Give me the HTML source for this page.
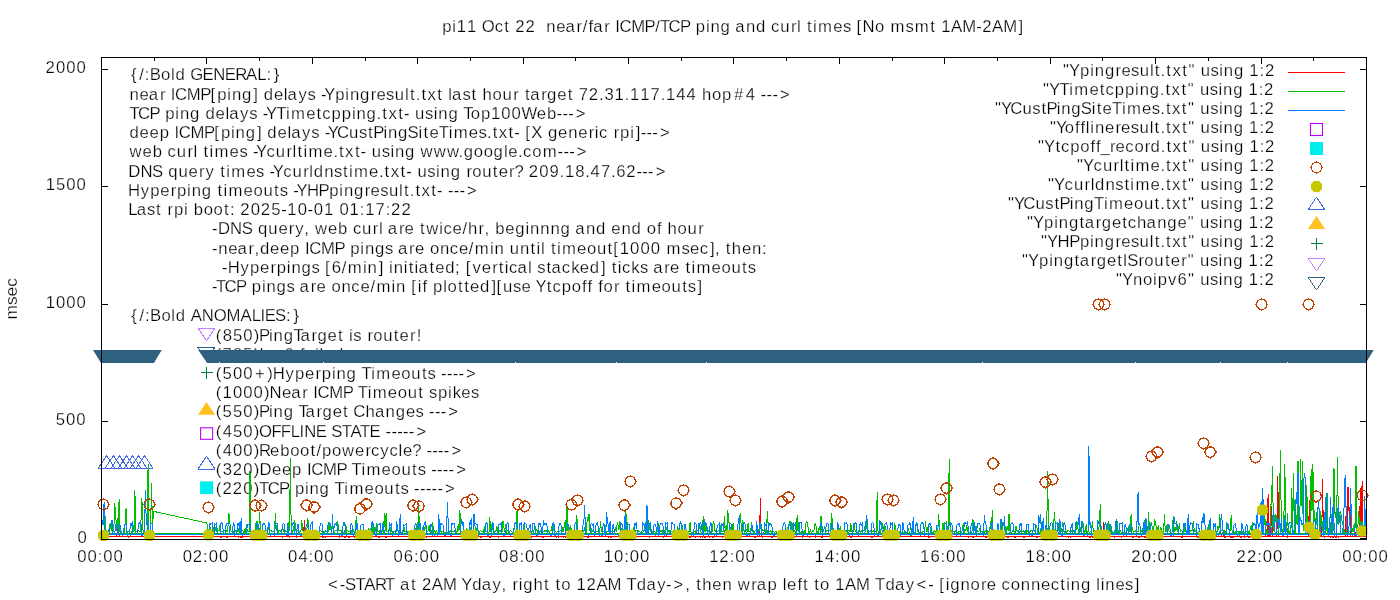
<!DOCTYPE html><html><head><meta charset="utf-8"><style>html,body{margin:0;padding:0;background:#fff;width:1400px;height:600px;overflow:hidden}svg{display:block;will-change:transform}text{font-family:"Liberation Sans",sans-serif;font-size:16.70px;fill:#000;stroke:#fff;stroke-width:0.25px;white-space:pre}</style></head><body>
<svg width="1400" height="600" viewBox="0 0 1400 600">
<rect width="1400" height="600" fill="#fff"/>
<g><text x="442.2 452.2 456.7 467.0 477.1 481.8 494.7 504.3 510.1 515.2 525.5 535.7 540.9 546.3 556.3 565.6 576.6 582.8 588.6 593.2 604.2 610.2 615.2 619.4 631.2 644.6 655.2 660.0 668.6 679.9 690.3 695.8 705.9 710.4 720.5 730.6 735.2 745.9 756.0 766.1 771.0 780.3 790.9 797.1 801.4 807.1 813.0 818.0 833.2 842.9 851.4 856.5 862.6 874.9 884.7 890.5 905.4 914.7 930.2 936.0 941.3 951.1 962.2 976.2 982.2 992.1 1003.2 1018.5" y="32.00">pi11 Oct 22  near/far ICMP/TCP ping and curl times [No msmt 1AM-2AM]</text>
<text x="328.0 339.7 345.1 355.5 364.2 375.1 385.1 395.4 400.0 411.0 416.7 421.9 431.8 442.9 457.1 461.3 472.2 481.7 492.5 501.5 506.8 512.5 518.7 523.2 533.5 544.1 549.8 555.5 561.3 571.1 576.4 586.6 596.5 607.6 621.7 626.4 636.8 646.4 657.2 666.0 673.5 685.2 690.5 696.2 702.2 712.3 722.4 732.3 737.8 751.3 756.7 767.5 777.4 782.7 787.1 797.4 802.9 808.6 814.3 820.1 830.0 835.2 845.0 856.1 870.3 875.0 885.4 894.9 905.7 916.5 928.3 934.2 939.3 945.8 950.3 960.6 970.6 981.1 986.8 996.6 1001.6 1010.7 1020.7 1031.0 1041.0 1050.7 1060.3 1066.2 1070.8 1080.9 1091.0 1096.2 1100.7 1105.3 1115.4 1125.1 1134.8" y="590.00">&lt;-START at 2AM Yday, right to 12AM Tday-&gt;, then wrap left to 1AM Tday&lt;- [ignore connecting lines]</text>
<text x="45.5 56.0 66.3 76.5" y="73.00">2000</text>
<text x="45.7 55.9 66.3 76.5" y="190.00">1500</text>
<text x="45.7 56.0 66.3 76.5" y="308.00">1000</text>
<text x="55.7 66.0 76.3" y="425.00">500</text>
<text x="77.6" y="542.50">0</text>
<text x="77.3 87.5 97.7 103.3 113.5" y="562.00">00:00</text>
<text x="182.7 192.8 203.1 208.7 218.9" y="562.00">02:00</text>
<text x="288.1 298.4 308.6 314.1 324.3" y="562.00">04:00</text>
<text x="393.5 403.8 414.0 419.5 429.8" y="562.00">06:00</text>
<text x="498.9 509.2 519.4 524.9 535.2" y="562.00">08:00</text>
<text x="603.8 614.1 624.3 629.8 640.1" y="562.00">10:00</text>
<text x="709.2 719.3 729.7 735.2 745.5" y="562.00">12:00</text>
<text x="814.6 825.0 835.1 840.7 850.9" y="562.00">14:00</text>
<text x="920.0 930.4 940.6 946.1 956.3" y="562.00">16:00</text>
<text x="1025.4 1035.8 1046.0 1051.5 1061.8" y="562.00">18:00</text>
<text x="1131.2 1141.7 1151.9 1157.4 1167.7" y="562.00">20:00</text>
<text x="1236.6 1246.9 1257.3 1262.8 1273.1" y="562.00">22:00</text>
<text x="1342.3 1352.5 1362.7 1368.2 1378.5" y="562.00">00:00</text>
<text x="131.0 139.3 144.7 149.7 161.1 171.0 175.5 185.6 190.3 202.5 213.2 224.7 235.3 245.9 257.2 266.4 273.8" y="80.00">{/:Bold GENERAL:}</text>
<text x="129.5 139.6 148.8 159.9 165.9 170.8 175.0 186.8 200.3 210.6 217.3 227.3 231.9 242.0 253.3 258.4 263.7 273.9 283.8 287.6 298.4 307.5 316.0 321.0 324.2 335.2 345.3 349.9 360.0 370.7 376.4 386.1 394.8 405.0 409.9 415.7 421.4 427.5 437.2 443.0 448.3 452.1 462.4 471.5 477.2 482.6 492.6 502.6 513.3 519.3 525.0 530.2 541.2 547.1 557.3 567.7 573.4 578.8 588.8 599.1 604.5 614.6 624.7 630.0 640.3 650.6 660.7 665.9 676.3 686.6 696.6 701.9 712.0 722.1 733.9 745.8 755.8 760.8 766.6 772.4 780.0" y="100.00">near ICMP[ping] delays -Ypingresult.txt last hour target 72.31.117.144 hop#4 ---&gt;</text>
<text x="129.5 138.1 149.4 159.8 165.3 175.3 179.9 190.0 200.1 205.4 215.6 225.6 229.3 240.1 249.2 257.7 262.7 265.9 276.2 286.1 291.1 306.2 316.6 322.2 331.6 341.8 351.9 356.5 366.5 376.6 382.3 388.4 398.2 403.9 409.8 415.1 425.0 433.7 438.3 448.4 458.5 463.2 470.8 480.9 491.0 501.3 511.6 521.4 536.7 546.9 556.6 562.5 568.3 575.8" y="119.00">TCP ping delays -YTimetcpping.txt- using Top100Web---&gt;</text>
<text x="129.4 139.6 149.5 159.7 169.6 174.5 178.7 190.5 203.9 214.3 221.0 231.0 235.6 245.7 257.0 262.1 267.3 277.6 287.5 291.3 302.1 311.2 319.7 324.7 327.8 336.9 349.1 359.1 368.1 373.2 383.4 388.0 398.1 407.6 418.6 423.5 429.4 438.8 448.7 453.7 468.8 478.5 487.0 492.7 498.8 508.6 514.2 520.2 525.3 531.3 542.6 547.9 558.1 568.2 578.2 588.7 594.8 599.0 608.0 613.8 620.1 630.2 635.7 640.7 646.5 652.3 659.9" y="138.00">deep ICMP[ping] delays -YCustPingSiteTimes.txt- [X generic rpi]---&gt;</text>
<text x="129.6 142.5 152.7 162.6 167.5 176.8 187.4 193.6 197.9 203.6 209.5 214.5 229.6 239.4 247.9 252.9 256.0 266.6 275.8 286.4 292.6 297.5 303.4 308.4 323.6 333.4 339.1 345.1 354.9 360.6 366.5 371.8 381.7 390.4 395.0 405.1 415.2 420.6 433.8 447.0 458.4 463.7 473.8 483.7 493.6 503.9 508.3 518.1 523.1 532.2 542.7 557.6 563.4 569.2 576.7" y="157.00">web curl times -Ycurltime.txt- using www.google.com---&gt;</text>
<text x="128.2 140.4 152.1 163.0 168.2 178.5 188.6 199.1 205.4 214.6 220.3 226.2 231.3 246.4 256.1 264.6 269.6 272.7 283.3 292.5 303.2 309.3 313.8 324.2 334.0 343.1 349.0 354.0 369.1 379.0 384.6 390.7 400.5 406.2 412.1 417.4 427.3 436.0 440.6 450.7 460.8 466.5 472.2 482.2 492.8 498.7 509.1 514.5 523.7 528.8 539.3 549.5 559.6 564.9 575.2 585.3 590.6 600.9 610.9 616.3 626.3 636.5 642.3 648.1 655.7" y="177.00">DNS query times -Ycurldnstime.txt- using router? 209.18.47.62---&gt;</text>
<text x="128.0 140.7 150.3 160.3 170.7 177.0 187.1 191.7 201.8 211.9 217.6 223.5 228.5 243.6 253.5 263.5 274.1 279.7 288.2 293.3 296.4 306.9 318.6 329.3 339.3 343.9 354.0 364.7 370.5 380.2 388.9 399.1 404.0 409.8 415.4 421.5 431.3 437.0 442.9 447.9 453.7 459.5 467.1" y="196.00">Hyperping timeouts -YHPpingresult.txt- ---&gt;</text>
<text x="128.2 136.7 147.0 156.1 161.8 167.6 173.9 184.0 188.3 193.8 203.7 213.6 223.9 229.9 235.1 240.3 250.8 260.8 271.2 281.2 287.3 297.7 307.6 313.7 323.9 334.0 339.4 349.6 359.8 365.3 375.6 385.8 391.1 401.4" y="215.00">Last rpi boot: 2025-10-01 01:17:22</text>
<text x="212.0 217.9 230.1 241.8 252.7 257.9 268.2 278.4 288.8 295.2 304.2 309.5 314.9 327.9 338.0 347.9 352.9 362.1 372.8 378.9 383.3 387.8 398.9 404.6 414.4 420.1 426.2 439.2 443.4 452.5 462.5 468.0 478.6 484.5 489.8 495.2 505.2 515.2 525.4 530.0 540.2 550.4 560.5 570.6 575.2 585.9 596.0 606.1 611.3 621.4 631.5 641.6 646.8 657.1 662.3 667.6 677.6 687.6 698.3" y="234.00">-DNS query, web curl are twice/hr, beginnng and end of hour</text>
<text x="212.0 218.2 228.3 237.5 248.6 254.4 259.9 270.1 280.0 290.1 300.0 305.0 309.2 320.9 334.4 344.8 350.3 360.3 364.9 375.0 385.0 393.5 398.1 409.1 414.9 424.7 429.9 439.9 449.7 458.9 468.8 474.8 490.0 494.6 504.5 509.8 520.1 530.6 536.6 541.0 545.4 551.1 557.0 562.0 577.1 587.0 597.0 607.6 613.3 619.8 630.1 640.4 650.7 660.7 666.5 681.4 690.0 699.7 709.9 714.9 720.1 725.8 731.8 741.9 752.0 762.1" y="254.00">-near,deep ICMP pings are once/min until timeout[1000 msec], then:</text>
<text x="222.0 227.7 240.4 250.0 260.0 270.4 276.7 286.8 291.4 301.5 311.5 320.0 325.1 331.7 341.8 347.8 363.0 367.6 378.7 383.8 389.1 393.7 403.8 408.7 414.6 418.4 429.4 435.3 445.2 455.1 460.7 465.8 472.5 481.8 492.2 498.8 504.7 508.9 517.4 527.9 532.3 537.3 546.4 551.6 561.8 571.3 579.8 589.7 601.0 606.1 611.8 617.7 621.9 631.3 640.1 648.6 653.2 664.3 670.0 679.8 685.5 691.4 696.5 711.6 721.4 731.4 742.0 747.7" y="273.00">-Hyperpings [6/min] initiated; [vertical stacked] ticks are timeouts</text>
<text x="212.0 216.1 224.6 236.0 246.4 251.8 261.9 266.5 276.6 286.6 295.1 299.6 310.7 316.4 326.3 331.4 341.5 351.3 360.4 370.4 376.4 391.5 396.1 406.1 411.2 417.7 422.5 427.7 433.1 443.2 447.6 457.9 464.2 470.1 480.1 491.4 496.4 503.0 512.9 521.5 531.3 535.6 546.8 552.4 561.8 571.8 582.0 587.5 592.7 598.3 603.5 613.9 620.0 625.6 631.6 636.6 651.7 661.6 671.6 682.2 687.8 697.5" y="292.00">-TCP pings are once/min [if plotted][use Ytcpoff for timeouts]</text>
<text x="131.3 139.6 145.0 150.0 161.4 171.3 175.8 185.9 190.8 201.8 213.8 226.6 240.4 251.7 260.6 264.7 275.1 286.1 293.5" y="321.00">{/:Bold ANOMALIES:}</text>
<text x="215.8 222.7 232.9 243.2 253.8 258.9 269.0 273.6 283.7 293.4 300.5 311.5 317.4 327.6 337.9 343.7 349.0 353.2 361.7 367.5 373.2 383.2 393.7 399.6 410.0 416.7" y="341.00">(850)PingTarget is router!</text>
<text x="215.8 222.6 232.9 243.1 253.8 259.3 264.6 274.9 284.3 294.3 299.9 304.6 315.2 319.6 324.1 334.0" y="360.00">(785)Ipv6 failed</text>
<text x="215.8 222.6 232.9 243.2 254.9 267.3 272.8 285.5 295.1 305.1 315.5 321.8 331.9 336.5 346.6 356.7 361.4 371.3 376.3 391.4 401.3 411.3 421.9 427.6 436.1 441.1 446.9 452.7 458.5 466.1" y="379.00">(500+)Hyperping Timeouts ----&gt;</text>
<text x="215.8 222.6 232.9 243.2 253.5 264.0 269.6 282.0 291.2 302.3 308.3 313.2 317.4 329.2 342.7 353.0 357.8 367.7 372.7 387.8 397.7 407.7 418.3 424.0 429.1 437.9 447.9 452.7 461.2 470.9" y="398.00">(1000)Near ICMP Timeout spikes</text>
<text x="215.8 222.6 232.9 243.2 253.8 258.9 269.0 273.6 283.7 293.8 298.5 305.6 316.6 322.5 332.7 343.1 348.8 353.2 365.5 374.9 385.6 395.7 405.9 415.6 424.1 429.1 434.9 440.7 448.3" y="417.00">(550)Ping Target Changes ---&gt;</text>
<text x="215.8 222.7 232.9 243.2 253.8 259.1 271.5 280.8 290.7 299.6 304.3 315.8 326.8 331.3 341.7 350.4 360.1 369.6 380.5 385.5 391.4 397.2 403.0 408.8 416.4" y="437.00">(450)OFFLINE STATE -----&gt;</text>
<text x="215.8 222.7 232.9 243.2 253.8 259.1 270.1 280.3 290.2 300.1 310.5 316.4 322.0 331.9 342.1 355.0 365.5 371.0 380.3 389.4 398.5 403.0 412.2 421.4 426.4 432.2 438.0 443.8 451.4" y="456.00">(400)Reboot/powercycle? ----&gt;</text>
<text x="215.8 222.7 232.7 243.2 253.8 259.5 272.1 282.0 292.1 302.0 307.0 311.2 322.9 336.4 346.8 351.5 361.4 366.5 381.6 391.4 401.4 412.0 417.7 426.2 431.2 437.0 442.8 448.6 456.2" y="475.00">(320)Deep ICMP Timeouts ----&gt;</text>
<text x="215.8 222.5 232.7 243.2 253.8 259.1 267.7 279.0 289.4 294.9 304.9 309.5 319.6 329.7 334.4 344.3 349.4 364.5 374.4 384.3 394.9 400.6 409.1 414.1 419.9 425.7 431.6 437.4 444.9" y="494.00">(220)TCP ping Timeouts -----&gt;</text>
<text x="1063.0 1069.1 1080.1 1090.2 1094.8 1104.9 1115.6 1121.4 1131.1 1139.8 1149.9 1154.8 1160.6 1166.3 1172.4 1182.2 1188.4 1195.4 1200.7 1210.6 1219.3 1223.8 1233.9 1244.0 1249.3 1259.6 1264.9" y="76.00">"Ypingresult.txt" using 1:2</text>
<text x="1043.0 1049.1 1059.4 1069.3 1074.3 1089.4 1099.8 1105.4 1114.8 1125.0 1135.1 1139.7 1149.8 1159.8 1165.5 1171.6 1181.4 1187.7 1194.6 1199.9 1209.8 1218.5 1223.1 1233.2 1243.3 1248.6 1258.8 1264.1" y="95.00">"YTimetcpping.txt" using 1:2</text>
<text x="995.0 1001.1 1010.2 1022.4 1032.3 1041.4 1046.5 1056.7 1061.3 1071.3 1080.8 1091.8 1096.7 1102.6 1112.0 1121.9 1126.9 1142.1 1151.8 1160.3 1166.0 1172.0 1181.8 1188.1 1195.0 1200.3 1210.3 1218.9 1223.5 1233.6 1243.7 1249.0 1259.3 1264.6" y="114.00">"YCustPingSiteTimes.txt" using 1:2</text>
<text x="1050.0 1056.1 1064.7 1075.0 1080.4 1085.8 1090.3 1094.9 1104.9 1115.4 1121.1 1130.8 1139.5 1149.7 1154.6 1160.4 1166.1 1172.1 1181.9 1188.2 1195.1 1200.4 1210.4 1219.0 1223.6 1233.7 1243.8 1249.1 1259.4 1264.7" y="133.00">"Yofflineresult.txt" using 1:2</text>
<text x="1038.0 1044.1 1055.4 1061.0 1070.3 1080.3 1090.6 1096.0 1100.4 1109.9 1115.6 1125.3 1134.4 1144.8 1150.6 1160.7 1166.4 1172.5 1182.3 1188.6 1195.5 1200.8 1210.7 1219.4 1224.0 1234.1 1244.2 1249.5 1259.7 1265.0" y="152.00">"Ytcpoff_record.txt" using 1:2</text>
<text x="1077.0 1083.1 1093.6 1102.9 1113.5 1119.7 1124.6 1130.5 1135.5 1150.6 1160.4 1166.1 1172.2 1182.0 1188.3 1195.2 1200.5 1210.4 1219.1 1223.7 1233.8 1243.9 1249.2 1259.4 1264.7" y="171.00">"Ycurltime.txt" using 1:2</text>
<text x="1048.0 1054.1 1064.6 1073.9 1084.5 1090.7 1095.1 1105.5 1115.3 1124.4 1130.3 1135.4 1150.5 1160.3 1166.0 1172.1 1181.9 1188.1 1195.0 1200.4 1210.3 1218.9 1223.5 1233.6 1243.7 1249.0 1259.3 1264.6" y="190.00">"Ycurldnstime.txt" using 1:2</text>
<text x="1008.0 1014.1 1023.2 1035.4 1045.3 1054.4 1059.5 1069.7 1074.3 1084.3 1094.0 1103.9 1109.0 1124.1 1134.0 1144.0 1154.5 1160.3 1166.0 1172.1 1181.9 1188.1 1195.1 1200.4 1210.3 1219.0 1223.6 1233.6 1243.7 1249.0 1259.3 1264.6" y="209.00">"YCustPingTimeout.txt" using 1:2</text>
<text x="1027.0 1033.1 1044.1 1054.2 1058.8 1068.9 1079.5 1084.8 1095.8 1101.7 1111.9 1122.2 1127.8 1137.1 1146.5 1157.2 1167.3 1177.5 1187.8 1194.8 1200.1 1210.0 1218.7 1223.3 1233.3 1243.4 1248.7 1259.0 1264.3" y="228.00">"Ypingtargetchange" using 1:2</text>
<text x="1041.0 1047.1 1057.6 1069.3 1080.0 1090.0 1094.6 1104.7 1115.4 1121.2 1130.9 1139.6 1149.8 1154.7 1160.4 1166.1 1172.2 1182.0 1188.3 1195.2 1200.5 1210.4 1219.1 1223.7 1233.8 1243.9 1249.2 1259.4 1264.7" y="247.00">"YHPpingresult.txt" using 1:2</text>
<text x="1022.0 1028.1 1039.1 1049.2 1053.8 1063.9 1074.5 1079.8 1090.8 1096.7 1106.9 1117.2 1122.8 1127.2 1138.6 1144.3 1154.3 1164.9 1170.8 1181.2 1187.7 1194.6 1200.0 1209.9 1218.5 1223.1 1233.2 1243.3 1248.6 1258.9 1264.2" y="266.00">"YpingtargetISrouter" using 1:2</text>
<text x="1116.0 1122.1 1133.1 1143.1 1153.0 1157.7 1168.0 1177.4 1187.9 1194.8 1200.2 1210.1 1218.7 1223.3 1233.4 1243.5 1248.8 1259.1 1264.4" y="285.00">"Ynoipv6" using 1:2</text></g>
<text transform="translate(17.00,319.60) rotate(-90)" textLength="41.60" lengthAdjust="spacingAndGlyphs">msec</text>
<path d="M101 69.5h7M1367 69.5h-7M101 186.5h7M1367 186.5h-7M101 304.5h7M1367 304.5h-7M101 421.5h7M1367 421.5h-7M101 538.5h7M1367 538.5h-7M154.5 57v4M206.5 57v7M259.5 57v4M312.5 57v7M365.5 57v4M417.5 57v7M470.5 57v4M523.5 57v7M575.5 57v4M628.5 57v7M681.5 57v4M733.5 57v7M786.5 57v4M839.5 57v7M892.5 57v4M944.5 57v7M997.5 57v4M1050.5 57v7M1102.5 57v4M1155.5 57v7M1208.5 57v4M1261.5 57v7M1313.5 57v4" stroke="#000" stroke-width="1" fill="none"/>
<g clip-path="url(#plotclip)">
<defs><clipPath id="plotclip"><rect x="101" y="57" width="1266" height="483"/></clipPath></defs>
<g fill="none" stroke-width="1" stroke-linejoin="miter" shape-rendering="crispEdges">
<path d="M101.5 536.5H1366.5" stroke="#ff0000"/>
<polyline points="101.5,536.6 102.4,536.6 103.3,537.6 104.1,536.6 105.0,536.6 105.9,536.6 106.8,536.6 107.6,536.6 108.5,536.6 109.4,536.6 110.3,536.6 111.2,536.6 112.0,536.6 112.9,536.6 113.8,536.6 114.7,536.6 115.6,536.6 116.4,536.6 117.3,532.8 118.2,514.8 119.1,536.6 119.9,536.6 120.8,536.6 121.7,536.6 122.6,536.6 123.5,536.6 124.3,536.6 125.2,536.6 126.1,536.6 127.0,536.6 127.9,536.6 128.7,537.6 129.6,536.6 130.5,536.6 131.4,536.6 132.2,536.6 133.1,536.6 134.0,536.6 134.9,536.6 135.8,536.6 136.6,536.6 137.5,536.6 138.4,536.6 139.3,536.6 140.2,536.6 141.0,536.6 141.9,536.6 142.8,536.6 143.7,536.6 144.5,536.6 145.4,536.6 146.3,536.6 147.2,536.6 148.1,536.6 148.9,536.6 149.8,536.6 150.7,536.6 151.6,536.6 152.5,536.6 153.3,536.6 154.2,536.6 206.9,536.6 207.8,536.6 208.7,536.6 209.6,536.6 210.4,537.6 211.3,537.6 212.2,537.6 213.1,536.6 213.9,536.6 214.8,536.6 215.7,536.6 216.6,536.6 217.5,536.6 218.3,536.6 219.2,536.6 220.1,536.6 221.0,537.6 221.8,536.6 222.7,536.6 223.6,536.6 224.5,536.6 225.4,536.6 226.2,536.6 227.1,537.6 228.0,536.6 228.9,536.6 229.8,536.6 230.6,536.6 231.5,536.6 232.4,536.6 233.3,536.6 234.1,536.6 235.0,536.6 235.9,536.6 236.8,536.6 237.7,536.6 238.5,537.6 239.4,536.6 240.3,537.6 241.2,536.6 242.1,537.6 242.9,536.6 243.8,536.6 244.7,536.6 245.6,536.6 246.4,536.6 247.3,536.6 248.2,536.6 249.1,536.6 250.0,536.6 250.8,536.6 251.7,536.6 252.6,536.6 253.5,536.6 254.4,534.4 255.2,533.0 256.1,536.6 257.0,534.2 257.9,536.6 258.7,536.6 259.6,536.6 260.5,536.6 261.4,536.6 262.3,536.6 263.1,536.6 264.0,536.6 264.9,536.6 265.8,534.3 266.7,536.6 267.5,536.6 268.4,536.6 269.3,536.6 270.2,536.6 271.0,536.6 271.9,536.6 272.8,536.6 273.7,536.6 274.6,536.6 275.4,536.6 276.3,536.6 277.2,536.6 278.1,536.6 279.0,536.6 279.8,536.6 280.7,536.6 281.6,536.6 282.5,537.6 283.3,536.6 284.2,536.6 285.1,536.6 286.0,536.6 286.9,536.6 287.7,533.0 288.6,536.6 289.5,537.6 290.4,536.6 291.2,536.6 292.1,536.6 293.0,536.6 293.9,536.6 294.8,536.6 295.6,536.6 296.5,537.6 297.4,536.6 298.3,536.6 299.2,536.6 300.0,536.6 300.9,536.6 301.8,536.6 302.7,536.6 303.5,536.6 304.4,520.5 305.3,536.6 306.2,537.6 307.1,536.6 307.9,536.6 308.8,537.6 309.7,536.6 310.6,536.6 311.5,536.6 312.3,536.6 313.2,536.6 314.1,536.6 315.0,536.6 315.8,536.6 316.7,537.6 317.6,536.6 318.5,536.6 319.4,536.6 320.2,536.6 321.1,536.6 322.0,536.6 322.9,537.6 323.8,536.6 324.6,536.6 325.5,537.6 326.4,536.6 327.3,536.6 328.1,536.6 329.0,536.6 329.9,536.6 330.8,536.6 331.7,536.6 332.5,536.6 333.4,536.6 334.3,536.6 335.2,536.6 336.1,536.6 336.9,536.6 337.8,536.6 338.7,536.6 339.6,537.6 340.4,536.6 341.3,536.6 342.2,536.6 343.1,536.6 344.0,536.6 344.8,537.6 345.7,536.6 346.6,536.6 347.5,536.6 348.3,536.6 349.2,537.6 350.1,536.6 351.0,536.6 351.9,536.6 352.7,536.6 353.6,536.6 354.5,537.6 355.4,536.6 356.3,536.6 357.1,536.6 358.0,536.6 358.9,536.6 359.8,536.6 360.6,536.6 361.5,536.6 362.4,536.6 363.3,536.6 364.2,536.6 365.0,537.6 365.9,536.6 366.8,536.6 367.7,536.6 368.6,536.6 369.4,536.6 370.3,536.6 371.2,536.6 372.1,536.6 372.9,536.6 373.8,536.6 374.7,536.6 375.6,536.6 376.5,536.6 377.3,536.6 378.2,536.6 379.1,537.6 380.0,536.6 380.9,536.6 381.7,536.6 382.6,536.6 383.5,536.6 384.4,536.6 385.2,536.6 386.1,537.6 387.0,536.6 387.9,536.6 388.8,536.6 389.6,536.6 390.5,536.6 391.4,536.6 392.3,536.6 393.2,536.6 394.0,536.6 394.9,536.6 395.8,536.6 396.7,536.6 397.5,536.6 398.4,536.6 399.3,536.6 400.2,536.6 401.1,536.6 401.9,536.6 402.8,536.6 403.7,536.6 404.6,536.6 405.4,536.6 406.3,536.6 407.2,536.6 408.1,536.6 409.0,536.6 409.8,536.6 410.7,536.6 411.6,536.6 412.5,537.6 413.4,536.6 414.2,536.6 415.1,536.6 416.0,536.6 416.9,536.6 417.7,536.6 418.6,536.6 419.5,536.6 420.4,536.6 421.3,536.6 422.1,536.6 423.0,536.6 423.9,536.6 424.8,536.6 425.7,536.6 426.5,537.6 427.4,536.6 428.3,536.6 429.2,536.6 430.0,536.6 430.9,536.6 431.8,536.6 432.7,536.6 433.6,536.6 434.4,536.6 435.3,536.6 436.2,536.6 437.1,536.6 438.0,536.6 438.8,536.6 439.7,536.6 440.6,536.6 441.5,536.6 442.3,536.6 443.2,536.6 444.1,536.6 445.0,534.6 445.9,536.6 446.7,536.6 447.6,536.6 448.5,536.6 449.4,536.6 450.3,536.6 451.1,536.6 452.0,536.6 452.9,536.6 453.8,536.6 454.6,536.6 455.5,536.6 456.4,536.6 457.3,536.6 458.2,536.6 459.0,536.6 459.9,536.6 460.8,536.6 461.7,536.6 462.5,536.6 463.4,536.6 464.3,536.6 465.2,536.6 466.1,536.6 466.9,536.6 467.8,536.6 468.7,536.6 469.6,536.6 470.5,536.6 471.3,536.6 472.2,536.6 473.1,536.6 474.0,536.6 474.8,536.6 475.7,536.6 476.6,536.6 477.5,536.6 478.4,536.6 479.2,536.6 480.1,536.6 481.0,537.6 481.9,536.6 482.8,536.6 483.6,536.6 484.5,536.6 485.4,536.6 486.3,536.6 487.1,536.6 488.0,536.6 488.9,536.6 489.8,537.6 490.7,537.6 491.5,536.6 492.4,536.6 493.3,536.6 494.2,536.6 495.1,536.6 495.9,536.6 496.8,536.6 497.7,536.6 498.6,537.6 499.4,536.6 500.3,536.6 501.2,536.6 502.1,536.6 503.0,536.6 503.8,536.6 504.7,536.6 505.6,536.6 506.5,536.6 507.4,536.6 508.2,536.6 509.1,536.6 510.0,536.6 510.9,536.6 511.7,536.6 512.6,536.6 513.5,536.6 514.4,536.6 515.3,536.6 516.1,536.6 517.0,536.6 517.9,536.6 518.8,536.6 519.7,536.6 520.5,536.6 521.4,536.6 522.3,537.6 523.2,536.6 524.0,536.6 524.9,536.6 525.8,536.6 526.7,536.6 527.6,536.6 528.4,536.6 529.3,537.6 530.2,536.6 531.1,537.6 531.9,536.6 532.8,536.6 533.7,536.6 534.6,536.6 535.5,536.6 536.3,536.6 537.2,536.6 538.1,536.6 539.0,536.6 539.9,536.6 540.7,536.6 541.6,536.6 542.5,537.6 543.4,537.6 544.2,536.6 545.1,536.6 546.0,536.6 546.9,536.6 547.8,536.6 548.6,536.6 549.5,536.6 550.4,536.6 551.3,536.6 552.2,536.6 553.0,536.6 553.9,536.6 554.8,536.6 555.7,536.6 556.5,537.6 557.4,536.6 558.3,537.6 559.2,536.6 560.1,536.6 560.9,536.6 561.8,536.6 562.7,536.6 563.6,537.6 564.5,536.6 565.3,537.6 566.2,536.6 567.1,536.6 568.0,536.6 568.8,536.6 569.7,536.6 570.6,536.6 571.5,536.6 572.4,536.6 573.2,537.6 574.1,537.6 575.0,536.6 575.9,536.6 576.8,536.6 577.6,536.6 578.5,536.6 579.4,536.6 580.3,536.6 581.1,536.6 582.0,536.6 582.9,536.6 583.8,536.6 584.7,536.6 585.5,536.6 586.4,536.6 587.3,536.6 588.2,537.6 589.0,536.6 589.9,536.6 590.8,536.6 591.7,536.6 592.6,536.6 593.4,536.6 594.3,536.6 595.2,536.6 596.1,536.6 597.0,536.6 597.8,536.6 598.7,536.6 599.6,536.6 600.5,536.6 601.3,536.6 602.2,536.6 603.1,536.6 604.0,536.6 604.9,536.6 605.7,536.6 606.6,536.6 607.5,536.6 608.4,537.6 609.3,536.6 610.1,536.6 611.0,537.6 611.9,536.6 612.8,536.6 613.6,536.6 614.5,536.6 615.4,536.6 616.3,536.6 617.2,536.6 618.0,536.6 618.9,536.6 619.8,536.6 620.7,536.6 621.6,536.6 622.4,536.6 623.3,536.6 624.2,536.6 625.1,533.9 625.9,536.6 626.8,536.6 627.7,536.6 628.6,536.6 629.5,536.6 630.3,536.6 631.2,536.6 632.1,537.6 633.0,536.6 633.9,536.6 634.7,536.6 635.6,536.6 636.5,536.6 637.4,536.6 638.2,536.6 639.1,536.6 640.0,536.6 640.9,536.6 641.8,536.6 642.6,536.6 643.5,536.6 644.4,536.6 645.3,536.6 646.1,536.6 647.0,536.6 647.9,536.6 648.8,536.6 649.7,537.6 650.5,536.6 651.4,536.6 652.3,536.6 653.2,536.6 654.1,536.6 654.9,536.6 655.8,536.6 656.7,536.6 657.6,536.6 658.4,536.6 659.3,536.6 660.2,536.6 661.1,536.6 662.0,536.6 662.8,536.6 663.7,537.6 664.6,536.6 665.5,532.5 666.4,536.6 667.2,536.6 668.1,536.6 669.0,536.6 669.9,536.6 670.7,536.6 671.6,536.6 672.5,536.6 673.4,536.6 674.3,536.6 675.1,536.6 676.0,536.6 676.9,536.6 677.8,536.6 678.7,536.6 679.5,536.6 680.4,536.6 681.3,536.6 682.2,536.6 683.0,536.6 683.9,536.6 684.8,536.6 685.7,536.6 686.6,536.6 687.4,536.6 688.3,536.6 689.2,536.6 690.1,537.6 691.0,536.6 691.8,536.6 692.7,536.6 693.6,536.6 694.5,536.6 695.3,537.6 696.2,536.6 697.1,536.6 698.0,536.6 698.9,536.6 699.7,536.6 700.6,537.6 701.5,536.6 702.4,537.6 703.2,536.6 704.1,536.6 705.0,537.6 705.9,536.6 706.8,536.6 707.6,536.6 708.5,536.6 709.4,537.6 710.3,536.6 711.2,536.6 712.0,536.6 712.9,537.6 713.8,536.6 714.7,536.6 715.5,536.6 716.4,536.6 717.3,536.6 718.2,536.6 719.1,536.6 719.9,536.6 720.8,536.6 721.7,536.6 722.6,537.6 723.5,536.6 724.3,536.6 725.2,536.6 726.1,537.6 727.0,536.6 727.8,536.6 728.7,536.6 729.6,536.6 730.5,536.6 731.4,536.6 732.2,536.6 733.1,536.6 734.0,536.6 734.9,536.6 735.8,536.6 736.6,536.6 737.5,536.6 738.4,536.6 739.3,536.6 740.1,536.6 741.0,536.6 741.9,536.6 742.8,536.6 743.7,536.6 744.5,536.6 745.4,536.6 746.3,536.6 747.2,536.6 748.1,536.6 748.9,536.6 749.8,536.6 750.7,536.6 751.6,536.6 752.4,536.6 753.3,536.6 754.2,536.6 755.1,537.6 756.0,536.6 756.8,536.6 757.7,536.6 758.6,536.6 759.5,536.6 760.4,498.2 761.2,535.0 762.1,537.6 763.0,536.6 763.9,536.6 764.7,536.6 765.6,536.6 766.5,536.6 767.4,536.6 768.3,536.6 769.1,536.6 770.0,536.6 770.9,536.6 771.8,537.6 772.6,536.6 773.5,536.6 774.4,536.6 775.3,536.6 776.2,536.6 777.0,536.6 777.9,536.6 778.8,536.6 779.7,536.6 780.6,537.6 781.4,536.6 782.3,536.6 783.2,536.6 784.1,536.6 784.9,536.6 785.8,536.6 786.7,536.6 787.6,536.6 788.5,536.6 789.3,536.6 790.2,536.6 791.1,536.6 792.0,536.6 792.9,536.6 793.7,536.6 794.6,537.6 795.5,536.6 796.4,536.6 797.2,536.6 798.1,536.6 799.0,536.6 799.9,536.6 800.8,536.6 801.6,536.6 802.5,537.6 803.4,536.6 804.3,536.6 805.2,536.6 806.0,536.6 806.9,536.6 807.8,536.6 808.7,536.6 809.5,537.6 810.4,536.6 811.3,536.6 812.2,536.6 813.1,536.6 813.9,536.6 814.8,536.6 815.7,537.6 816.6,536.6 817.5,536.6 818.3,536.6 819.2,536.6 820.1,536.6 821.0,536.6 821.8,537.6 822.7,536.6 823.6,536.6 824.5,536.6 825.4,536.6 826.2,536.6 827.1,536.6 828.0,536.6 828.9,536.6 829.7,536.6 830.6,536.6 831.5,537.6 832.4,536.6 833.3,536.6 834.1,536.6 835.0,536.6 835.9,537.6 836.8,536.6 837.7,536.6 838.5,537.6 839.4,536.6 840.3,536.6 841.2,536.6 842.0,537.6 842.9,536.6 843.8,536.6 844.7,536.6 845.6,536.6 846.4,536.6 847.3,536.6 848.2,536.6 849.1,536.6 850.0,536.6 850.8,537.6 851.7,536.6 852.6,536.6 853.5,536.6 854.3,536.6 855.2,536.6 856.1,536.6 857.0,536.6 857.9,536.6 858.7,536.6 859.6,536.6 860.5,536.6 861.4,536.6 862.3,536.6 863.1,536.6 864.0,536.6 864.9,536.6 865.8,536.6 866.6,536.6 867.5,536.6 868.4,536.6 869.3,536.6 870.2,536.6 871.0,536.6 871.9,537.6 872.8,536.6 873.7,536.6 874.6,536.6 875.4,536.6 876.3,536.6 877.2,536.6 878.1,536.6 878.9,536.6 879.8,536.6 880.7,536.6 881.6,536.6 882.5,536.6 883.3,537.6 884.2,536.6 885.1,536.6 886.0,536.6 886.8,536.6 887.7,536.6 888.6,536.6 889.5,536.6 890.4,536.6 891.2,536.6 892.1,537.6 893.0,536.6 893.9,536.6 894.8,537.6 895.6,537.6 896.5,536.6 897.4,536.6 898.3,536.6 899.1,536.6 900.0,536.6 900.9,536.6 901.8,536.6 902.7,536.6 903.5,536.6 904.4,536.6 905.3,536.6 906.2,536.6 907.1,536.6 907.9,536.6 908.8,536.6 909.7,536.6 910.6,536.6 911.4,536.6 912.3,536.6 913.2,536.6 914.1,536.6 915.0,536.6 915.8,536.6 916.7,536.6 917.6,536.6 918.5,536.6 919.4,536.6 920.2,536.6 921.1,536.6 922.0,536.6 922.9,536.6 923.7,536.6 924.6,536.6 925.5,536.6 926.4,536.6 927.3,536.6 928.1,536.6 929.0,537.6 929.9,536.6 930.8,536.6 931.7,536.6 932.5,536.6 933.4,536.6 934.3,536.6 935.2,536.6 936.0,536.6 936.9,536.6 937.8,537.6 938.7,536.6 939.6,536.6 940.4,536.6 941.3,536.6 942.2,536.6 943.1,536.6 943.9,536.6 944.8,536.6 945.7,536.6 946.6,537.6 947.5,536.6 948.3,536.6 949.2,536.6 950.1,536.6 951.0,536.6 951.9,536.6 952.7,536.6 953.6,536.6 954.5,536.6 955.4,536.6 956.2,536.6 957.1,536.6 958.0,536.6 958.9,536.6 959.8,536.6 960.6,536.6 961.5,536.6 962.4,536.6 963.3,536.6 964.2,536.6 965.0,536.6 965.9,536.6 966.8,536.6 967.7,536.6 968.5,537.6 969.4,536.6 970.3,536.6 971.2,536.6 972.1,536.6 972.9,537.6 973.8,536.6 974.7,536.6 975.6,536.6 976.5,536.6 977.3,536.6 978.2,536.6 979.1,536.6 980.0,536.6 980.8,536.6 981.7,536.6 982.6,536.6 983.5,536.6 984.4,536.6 985.2,536.6 986.1,537.6 987.0,536.6 987.9,536.6 988.8,536.6 989.6,536.6 990.5,536.6 991.4,536.6 992.3,536.6 993.1,536.6 994.0,536.6 994.9,536.6 995.8,536.6 996.7,536.6 997.5,536.6 998.4,536.6 999.3,536.6 1000.2,536.6 1001.0,536.6 1001.9,536.6 1002.8,536.6 1003.7,536.6 1004.6,536.6 1005.4,536.6 1006.3,536.6 1007.2,536.6 1008.1,537.6 1009.0,536.6 1009.8,536.6 1010.7,536.6 1011.6,536.6 1012.5,536.6 1013.3,536.6 1014.2,536.6 1015.1,537.6 1016.0,536.6 1016.9,536.6 1017.7,536.6 1018.6,536.6 1019.5,536.6 1020.4,536.6 1021.3,536.6 1022.1,536.6 1023.0,536.6 1023.9,537.6 1024.8,536.6 1025.6,536.6 1026.5,536.6 1027.4,536.6 1028.3,536.6 1029.2,536.6 1030.0,536.6 1030.9,536.6 1031.8,536.6 1032.7,536.6 1033.6,536.6 1034.4,536.6 1035.3,536.6 1036.2,536.6 1037.1,537.6 1037.9,536.6 1038.8,536.6 1039.7,536.6 1040.6,536.6 1041.5,536.6 1042.3,536.6 1043.2,536.6 1044.1,536.6 1045.0,536.6 1045.9,536.6 1046.7,536.6 1047.6,536.6 1048.5,536.6 1049.4,536.6 1050.2,536.6 1051.1,536.6 1052.0,536.6 1052.9,536.6 1053.8,536.6 1054.6,536.6 1055.5,536.6 1056.4,536.6 1057.3,536.6 1058.2,536.6 1059.0,536.6 1059.9,536.6 1060.8,536.6 1061.7,536.6 1062.5,536.6 1063.4,536.6 1064.3,536.6 1065.2,536.6 1066.1,536.6 1066.9,536.6 1067.8,536.6 1068.7,537.6 1069.6,536.6 1070.4,537.6 1071.3,536.6 1072.2,536.6 1073.1,536.6 1074.0,536.6 1074.8,536.6 1075.7,536.6 1076.6,536.6 1077.5,536.6 1078.4,536.6 1079.2,536.6 1080.1,536.6 1081.0,536.6 1081.9,536.6 1082.7,536.6 1083.6,536.6 1084.5,536.6 1085.4,536.6 1086.3,536.6 1087.1,536.6 1088.0,536.6 1088.9,536.6 1089.8,537.6 1090.7,536.6 1091.5,536.6 1092.4,537.6 1093.3,536.6 1094.2,536.6 1095.0,536.6 1095.9,536.6 1096.8,537.6 1097.7,536.6 1098.6,537.6 1099.4,536.6 1100.3,536.6 1101.2,536.6 1102.1,536.6 1103.0,536.6 1103.8,522.3 1104.7,536.6 1105.6,536.6 1106.5,536.6 1107.3,536.6 1108.2,536.6 1109.1,536.6 1110.0,536.6 1110.9,536.6 1111.7,536.6 1112.6,536.6 1113.5,536.6 1114.4,537.6 1115.3,536.6 1116.1,536.6 1117.0,536.6 1117.9,536.6 1118.8,536.6 1119.6,536.6 1120.5,536.6 1121.4,537.6 1122.3,536.6 1123.2,536.6 1124.0,536.6 1124.9,536.6 1125.8,536.6 1126.7,536.6 1127.5,536.6 1128.4,536.6 1129.3,536.6 1130.2,536.6 1131.1,536.6 1131.9,536.6 1132.8,537.6 1133.7,536.6 1134.6,536.6 1135.5,536.6 1136.3,536.6 1137.2,536.6 1138.1,536.6 1139.0,537.6 1139.8,536.6 1140.7,536.6 1141.6,536.6 1142.5,536.6 1143.4,536.6 1144.2,536.6 1145.1,537.6 1146.0,536.6 1146.9,536.6 1147.8,536.6 1148.6,536.6 1149.5,536.6 1150.4,536.6 1151.3,536.6 1152.1,536.6 1153.0,536.6 1153.9,536.6 1154.8,536.6 1155.7,536.6 1156.5,536.6 1157.4,537.6 1158.3,536.6 1159.2,536.6 1160.1,537.6 1160.9,536.6 1161.8,536.6 1162.7,536.6 1163.6,536.6 1164.4,536.6 1165.3,536.6 1166.2,536.6 1167.1,536.6 1168.0,536.6 1168.8,536.6 1169.7,536.6 1170.6,536.6 1171.5,536.6 1172.4,536.6 1173.2,536.6 1174.1,536.6 1175.0,536.6 1175.9,536.6 1176.7,536.6 1177.6,536.6 1178.5,536.6 1179.4,536.6 1180.3,536.6 1181.1,536.6 1182.0,537.6 1182.9,536.6 1183.8,536.6 1184.6,536.6 1185.5,536.6 1186.4,536.6 1187.3,536.6 1188.2,536.6 1189.0,536.6 1189.9,536.6 1190.8,536.6 1191.7,536.6 1192.6,536.6 1193.4,536.6 1194.3,536.6 1195.2,536.6 1196.1,536.6 1196.9,536.6 1197.8,537.6 1198.7,536.6 1199.6,536.6 1200.5,536.6 1201.3,536.6 1202.2,536.6 1203.1,536.6 1204.0,536.6 1204.9,536.6 1205.7,536.6 1206.6,536.6 1207.5,536.6 1208.4,537.6 1209.2,536.6 1210.1,536.6 1211.0,536.6 1211.9,536.6 1212.8,536.6 1213.6,536.6 1214.5,536.6 1215.4,536.6 1216.3,536.6 1217.2,536.6 1218.0,536.6 1218.9,536.6 1219.8,536.6 1220.7,536.6 1221.5,536.6 1222.4,532.3 1223.3,536.6 1224.2,536.6 1225.1,537.6 1225.9,536.6 1226.8,536.6 1227.7,536.6 1228.6,536.6 1229.5,536.6 1230.3,536.6 1231.2,537.6 1232.1,536.6 1233.0,537.6 1233.8,536.6 1234.7,536.6 1235.6,536.6 1236.5,536.6 1237.4,536.6 1238.2,536.6 1239.1,536.6 1240.0,536.6 1240.9,537.6 1241.7,536.6 1242.6,536.6 1243.5,536.6 1244.4,537.6 1245.3,536.6 1246.1,536.6 1247.0,536.6 1247.9,536.6 1248.8,537.6 1249.7,536.6 1250.5,536.6 1251.4,536.6 1252.3,536.6 1253.2,536.6 1254.0,536.6 1254.9,536.6 1255.8,536.6 1256.7,536.6 1257.6,536.6 1258.4,536.6 1259.3,536.6 1260.2,536.6 1261.1,536.6 1262.0,536.6 1262.8,536.6 1263.7,536.6 1264.6,536.6 1265.5,536.6 1266.3,530.2 1267.2,536.6 1268.1,493.9 1269.0,536.6 1269.9,531.3 1270.7,536.6 1271.6,505.6 1272.5,536.6 1273.4,536.6 1274.3,536.6 1275.1,536.6 1276.0,536.6 1276.9,536.6 1277.8,476.0 1278.6,536.6 1279.5,536.6 1280.4,536.6 1281.3,536.6 1282.2,536.6 1283.0,532.0 1283.9,536.6 1284.8,536.6 1285.7,536.6 1286.6,536.6 1287.4,537.6 1288.3,536.6 1289.2,536.6 1290.1,536.6 1290.9,536.6 1291.8,536.6 1292.7,536.6 1293.6,536.6 1294.5,536.6 1295.3,536.6 1296.2,536.6 1297.1,536.6 1298.0,536.6 1298.9,536.6 1299.7,536.6 1300.6,536.6 1301.5,536.6 1302.4,536.6 1303.2,536.6 1304.1,536.6 1305.0,536.6 1305.9,536.6 1306.8,536.6 1307.6,536.6 1308.5,536.6 1309.4,499.8 1310.3,536.6 1311.1,536.6 1312.0,536.6 1312.9,537.6 1313.8,536.6 1314.7,536.6 1315.5,536.6 1316.4,536.6 1317.3,536.6 1318.2,536.6 1319.1,536.6 1319.9,515.3 1320.8,536.6 1321.7,536.6 1322.6,479.5 1323.4,536.6 1324.3,537.6 1325.2,536.6 1326.1,536.6 1327.0,536.6 1327.8,536.6 1328.7,536.6 1329.6,536.6 1330.5,537.6 1331.4,536.6 1332.2,536.6 1333.1,537.6 1334.0,536.6 1334.9,536.6 1335.7,537.6 1336.6,537.6 1337.5,536.6 1338.4,537.6 1339.3,536.6 1340.1,536.6 1341.0,536.6 1341.9,536.6 1342.8,536.6 1343.7,536.6 1344.5,536.6 1345.4,536.6 1346.3,506.7 1347.2,536.6 1348.0,487.0 1348.9,511.3 1349.8,507.4 1350.7,536.6 1351.6,536.6 1352.4,536.6 1353.3,536.6 1354.2,536.6 1355.1,532.3 1356.0,536.6 1356.8,536.6 1357.7,536.6 1358.6,536.6 1359.5,536.6 1360.3,488.0 1361.2,536.6 1362.1,481.1 1363.0,536.6 1363.9,536.6 1364.7,536.6 1365.6,536.6 1366.5,536.6" stroke="#ff0000"/>
<path d="M101.5 533.5H1366.5" stroke="#00c000"/>
<polyline points="101.5,532.2 102.4,531.8 103.3,532.2 104.1,530.8 105.0,515.4 105.9,531.3 106.8,530.7 107.6,532.4 108.5,531.5 109.4,527.8 110.3,523.1 111.2,530.8 112.0,523.2 112.9,532.1 113.8,531.0 114.7,502.9 115.6,514.2 116.4,525.6 117.3,518.6 118.2,531.7 119.1,499.4 119.9,531.2 120.8,534.5 121.7,531.9 122.6,535.1 123.5,531.3 124.3,532.1 125.2,522.1 126.1,507.9 127.0,531.7 127.9,532.2 128.7,531.4 129.6,531.7 130.5,534.9 131.4,532.5 132.2,530.3 133.1,525.4 134.0,532.4 134.9,490.0 135.8,532.5 136.6,531.7 137.5,531.6 138.4,530.5 139.3,531.7 140.2,531.2 141.0,520.4 141.9,497.6 142.8,528.8 143.7,532.4 144.5,532.1 145.4,534.9 146.3,531.0 147.2,532.2 148.1,463.9 148.9,531.6 149.8,533.4 150.7,521.0 151.6,483.0 152.5,532.5 153.3,512.3 154.2,511.5 206.9,523.0 207.8,531.7 208.7,532.2 209.6,522.8 210.4,530.4 211.3,531.9 212.2,532.3 213.1,534.6 213.9,526.9 214.8,531.5 215.7,528.4 216.6,531.0 217.5,528.9 218.3,531.0 219.2,530.3 220.1,525.0 221.0,532.2 221.8,531.0 222.7,531.8 223.6,531.6 224.5,530.3 225.4,530.7 226.2,530.9 227.1,531.6 228.0,526.3 228.9,513.4 229.8,521.2 230.6,530.9 231.5,531.6 232.4,531.0 233.3,532.6 234.1,530.6 235.0,532.3 235.9,530.5 236.8,531.7 237.7,526.2 238.5,530.4 239.4,532.4 240.3,531.8 241.2,532.1 242.1,530.5 242.9,530.7 243.8,533.7 244.7,530.4 245.6,532.1 246.4,524.3 247.3,531.2 248.2,531.7 249.1,531.4 250.0,470.8 250.8,531.8 251.7,532.0 252.6,530.9 253.5,531.1 254.4,532.2 255.2,532.5 256.1,522.0 257.0,520.9 257.9,534.7 258.7,530.3 259.6,512.3 260.5,530.5 261.4,530.8 262.3,530.5 263.1,532.5 264.0,532.3 264.9,532.5 265.8,530.5 266.7,530.9 267.5,531.2 268.4,523.9 269.3,532.5 270.2,531.0 271.0,530.3 271.9,531.9 272.8,531.7 273.7,531.4 274.6,530.6 275.4,513.0 276.3,531.0 277.2,525.3 278.1,532.3 279.0,530.6 279.8,530.3 280.7,531.2 281.6,530.7 282.5,527.2 283.3,530.7 284.2,532.0 285.1,530.7 286.0,531.7 286.9,532.1 287.7,532.2 288.6,522.2 289.5,530.8 290.4,457.6 291.2,532.3 292.1,534.3 293.0,530.6 293.9,526.7 294.8,520.5 295.6,530.3 296.5,531.5 297.4,530.3 298.3,531.0 299.2,534.4 300.0,531.4 300.9,531.5 301.8,520.3 302.7,530.9 303.5,531.3 304.4,531.8 305.3,530.3 306.2,530.9 307.1,528.1 307.9,518.5 308.8,532.5 309.7,530.8 310.6,530.6 311.5,532.2 312.3,530.5 313.2,532.0 314.1,533.7 315.0,530.4 315.8,530.5 316.7,530.8 317.6,532.5 318.5,532.4 319.4,531.2 320.2,530.7 321.1,531.2 322.0,531.5 322.9,530.4 323.8,532.3 324.6,532.5 325.5,530.6 326.4,532.0 327.3,531.8 328.1,531.4 329.0,521.7 329.9,530.4 330.8,524.0 331.7,531.7 332.5,524.1 333.4,532.5 334.3,532.6 335.2,530.8 336.1,530.6 336.9,530.9 337.8,521.5 338.7,530.5 339.6,530.7 340.4,530.6 341.3,530.4 342.2,533.8 343.1,532.4 344.0,532.3 344.8,532.5 345.7,523.6 346.6,531.8 347.5,530.5 348.3,531.0 349.2,531.4 350.1,532.0 351.0,534.4 351.9,530.7 352.7,532.5 353.6,530.5 354.5,532.3 355.4,530.5 356.3,515.7 357.1,531.6 358.0,532.5 358.9,530.5 359.8,531.0 360.6,532.4 361.5,531.7 362.4,534.3 363.3,530.6 364.2,530.3 365.0,531.8 365.9,530.4 366.8,532.2 367.7,531.7 368.6,528.9 369.4,531.0 370.3,528.5 371.2,530.5 372.1,534.6 372.9,523.6 373.8,532.1 374.7,532.2 375.6,530.9 376.5,523.4 377.3,531.7 378.2,531.8 379.1,530.7 380.0,532.6 380.9,531.0 381.7,530.7 382.6,531.0 383.5,532.4 384.4,512.6 385.2,531.4 386.1,513.4 387.0,531.4 387.9,531.0 388.8,531.3 389.6,523.6 390.5,532.1 391.4,531.2 392.3,532.3 393.2,532.4 394.0,531.5 394.9,532.1 395.8,530.9 396.7,531.4 397.5,530.3 398.4,530.4 399.3,531.1 400.2,532.4 401.1,534.2 401.9,532.2 402.8,531.8 403.7,525.4 404.6,531.2 405.4,531.3 406.3,531.3 407.2,534.3 408.1,531.0 409.0,531.1 409.8,534.7 410.7,532.3 411.6,531.4 412.5,534.6 413.4,531.5 414.2,531.9 415.1,532.0 416.0,528.1 416.9,531.8 417.7,532.3 418.6,503.6 419.5,531.0 420.4,531.2 421.3,530.8 422.1,530.5 423.0,527.0 423.9,526.6 424.8,530.8 425.7,521.0 426.5,532.2 427.4,531.3 428.3,530.9 429.2,525.1 430.0,531.8 430.9,532.2 431.8,532.4 432.7,522.1 433.6,533.7 434.4,531.0 435.3,532.0 436.2,530.8 437.1,532.1 438.0,532.3 438.8,530.3 439.7,532.4 440.6,530.8 441.5,532.2 442.3,531.6 443.2,532.0 444.1,532.4 445.0,532.6 445.9,532.0 446.7,532.3 447.6,532.3 448.5,531.8 449.4,532.4 450.3,530.7 451.1,532.4 452.0,531.6 452.9,531.1 453.8,531.5 454.6,531.0 455.5,532.2 456.4,532.6 457.3,531.1 458.2,524.3 459.0,530.8 459.9,510.5 460.8,531.6 461.7,531.7 462.5,532.4 463.4,534.2 464.3,530.6 465.2,531.8 466.1,530.8 466.9,528.1 467.8,532.2 468.7,531.7 469.6,533.9 470.5,530.6 471.3,525.8 472.2,531.8 473.1,531.3 474.0,532.5 474.8,531.0 475.7,526.1 476.6,531.4 477.5,530.8 478.4,530.4 479.2,532.5 480.1,530.7 481.0,531.2 481.9,531.5 482.8,531.0 483.6,532.2 484.5,525.9 485.4,531.4 486.3,531.3 487.1,531.4 488.0,534.6 488.9,534.4 489.8,517.3 490.7,531.9 491.5,525.3 492.4,526.7 493.3,532.1 494.2,534.2 495.1,530.5 495.9,531.3 496.8,526.4 497.7,531.1 498.6,532.4 499.4,530.6 500.3,530.7 501.2,531.8 502.1,531.9 503.0,520.8 503.8,526.4 504.7,531.6 505.6,523.8 506.5,532.1 507.4,530.3 508.2,531.3 509.1,532.4 510.0,530.9 510.9,530.8 511.7,532.0 512.6,532.4 513.5,531.0 514.4,525.7 515.3,532.3 516.1,530.4 517.0,510.9 517.9,532.2 518.8,532.6 519.7,532.5 520.5,531.8 521.4,531.2 522.3,532.4 523.2,531.5 524.0,524.5 524.9,532.4 525.8,532.2 526.7,533.9 527.6,531.2 528.4,531.4 529.3,532.3 530.2,531.0 531.1,531.4 531.9,532.5 532.8,530.7 533.7,532.6 534.6,526.0 535.5,526.8 536.3,531.0 537.2,530.6 538.1,534.2 539.0,531.6 539.9,532.3 540.7,531.1 541.6,532.1 542.5,531.3 543.4,531.8 544.2,530.9 545.1,531.4 546.0,530.5 546.9,531.8 547.8,532.5 548.6,531.1 549.5,532.3 550.4,530.5 551.3,530.6 552.2,524.9 553.0,531.5 553.9,522.5 554.8,532.4 555.7,531.7 556.5,532.3 557.4,531.6 558.3,532.4 559.2,532.1 560.1,531.0 560.9,530.3 561.8,533.5 562.7,527.1 563.6,531.6 564.5,522.8 565.3,521.4 566.2,530.6 567.1,505.8 568.0,531.4 568.8,526.3 569.7,532.0 570.6,525.4 571.5,530.4 572.4,531.3 573.2,530.5 574.1,532.2 575.0,534.3 575.9,532.3 576.8,514.9 577.6,530.8 578.5,532.4 579.4,531.9 580.3,531.2 581.1,530.5 582.0,530.4 582.9,531.6 583.8,531.6 584.7,527.0 585.5,530.8 586.4,532.0 587.3,517.5 588.2,520.7 589.0,513.9 589.9,530.7 590.8,526.6 591.7,531.9 592.6,530.5 593.4,530.4 594.3,531.7 595.2,530.8 596.1,532.1 597.0,531.1 597.8,531.5 598.7,531.6 599.6,533.9 600.5,520.7 601.3,530.6 602.2,532.3 603.1,531.3 604.0,532.1 604.9,523.8 605.7,533.4 606.6,531.3 607.5,531.3 608.4,530.7 609.3,531.0 610.1,532.2 611.0,530.8 611.9,531.8 612.8,530.9 613.6,531.3 614.5,532.4 615.4,527.2 616.3,532.3 617.2,523.0 618.0,524.6 618.9,530.4 619.8,521.2 620.7,530.6 621.6,532.0 622.4,524.4 623.3,530.8 624.2,531.7 625.1,530.6 625.9,511.0 626.8,532.0 627.7,532.3 628.6,532.2 629.5,532.6 630.3,531.0 631.2,533.6 632.1,531.1 633.0,530.7 633.9,527.6 634.7,531.4 635.6,531.0 636.5,530.4 637.4,531.3 638.2,530.9 639.1,531.2 640.0,532.1 640.9,534.3 641.8,533.5 642.6,532.3 643.5,531.0 644.4,530.7 645.3,521.9 646.1,531.6 647.0,532.3 647.9,518.2 648.8,532.3 649.7,523.0 650.5,531.3 651.4,530.3 652.3,532.5 653.2,531.2 654.1,531.0 654.9,531.8 655.8,534.8 656.7,531.5 657.6,530.8 658.4,522.9 659.3,532.2 660.2,530.5 661.1,531.4 662.0,530.3 662.8,532.2 663.7,531.8 664.6,530.7 665.5,532.1 666.4,527.0 667.2,530.4 668.1,531.8 669.0,530.3 669.9,532.2 670.7,531.4 671.6,531.2 672.5,531.9 673.4,530.8 674.3,531.6 675.1,531.0 676.0,531.7 676.9,531.3 677.8,526.2 678.7,532.0 679.5,531.1 680.4,530.3 681.3,531.3 682.2,525.2 683.0,533.5 683.9,531.2 684.8,531.3 685.7,532.5 686.6,530.3 687.4,532.6 688.3,531.7 689.2,531.4 690.1,522.2 691.0,531.9 691.8,532.2 692.7,532.4 693.6,531.8 694.5,531.8 695.3,531.2 696.2,534.6 697.1,530.8 698.0,530.7 698.9,530.4 699.7,522.7 700.6,531.5 701.5,532.5 702.4,531.8 703.2,516.0 704.1,524.6 705.0,531.8 705.9,522.0 706.8,530.3 707.6,531.6 708.5,530.7 709.4,532.3 710.3,532.1 711.2,531.3 712.0,531.9 712.9,524.1 713.8,521.3 714.7,530.7 715.5,531.0 716.4,530.6 717.3,531.7 718.2,530.7 719.1,530.3 719.9,532.6 720.8,525.2 721.7,530.8 722.6,531.3 723.5,531.2 724.3,516.3 725.2,530.8 726.1,525.3 727.0,531.6 727.8,510.5 728.7,521.8 729.6,523.6 730.5,530.6 731.4,531.9 732.2,531.4 733.1,522.8 734.0,532.1 734.9,532.0 735.8,531.1 736.6,531.4 737.5,530.3 738.4,531.7 739.3,530.3 740.1,513.0 741.0,523.0 741.9,532.4 742.8,520.4 743.7,529.0 744.5,534.7 745.4,526.8 746.3,530.5 747.2,531.4 748.1,522.7 748.9,531.0 749.8,531.0 750.7,530.5 751.6,522.5 752.4,531.7 753.3,530.8 754.2,532.4 755.1,530.7 756.0,530.4 756.8,530.4 757.7,530.9 758.6,530.3 759.5,530.6 760.4,521.9 761.2,531.4 762.1,529.0 763.0,530.7 763.9,531.1 764.7,526.4 765.6,534.2 766.5,530.6 767.4,510.6 768.3,528.1 769.1,531.5 770.0,531.7 770.9,530.4 771.8,532.3 772.6,532.5 773.5,531.6 774.4,532.5 775.3,532.0 776.2,531.7 777.0,532.3 777.9,531.9 778.8,531.6 779.7,530.9 780.6,531.3 781.4,532.6 782.3,531.5 783.2,530.5 784.1,531.9 784.9,531.6 785.8,530.7 786.7,530.6 787.6,526.7 788.5,532.6 789.3,521.9 790.2,521.5 791.1,531.4 792.0,522.5 792.9,530.6 793.7,531.4 794.6,530.9 795.5,532.4 796.4,530.3 797.2,515.1 798.1,532.3 799.0,522.0 799.9,531.2 800.8,534.9 801.6,531.9 802.5,531.7 803.4,532.2 804.3,530.9 805.2,534.1 806.0,523.1 806.9,521.4 807.8,525.0 808.7,532.1 809.5,532.5 810.4,530.3 811.3,532.5 812.2,531.5 813.1,530.6 813.9,531.2 814.8,524.8 815.7,522.7 816.6,532.4 817.5,531.4 818.3,533.6 819.2,526.6 820.1,530.7 821.0,515.6 821.8,531.9 822.7,531.8 823.6,532.0 824.5,526.0 825.4,530.3 826.2,531.3 827.1,530.7 828.0,530.6 828.9,530.4 829.7,530.9 830.6,532.0 831.5,513.2 832.4,522.5 833.3,531.4 834.1,530.9 835.0,531.9 835.9,532.3 836.8,531.3 837.7,528.2 838.5,528.1 839.4,531.4 840.3,526.0 841.2,530.6 842.0,531.7 842.9,530.3 843.8,531.4 844.7,531.2 845.6,530.5 846.4,530.6 847.3,532.2 848.2,531.0 849.1,530.6 850.0,531.7 850.8,523.5 851.7,531.8 852.6,531.9 853.5,531.1 854.3,523.3 855.2,531.9 856.1,531.4 857.0,532.3 857.9,532.4 858.7,530.8 859.6,530.5 860.5,532.1 861.4,530.9 862.3,531.3 863.1,530.5 864.0,531.1 864.9,525.7 865.8,532.2 866.6,521.2 867.5,531.8 868.4,530.7 869.3,531.5 870.2,530.6 871.0,531.7 871.9,532.1 872.8,531.7 873.7,530.8 874.6,531.6 875.4,531.7 876.3,532.5 877.2,492.2 878.1,534.9 878.9,531.2 879.8,531.8 880.7,532.3 881.6,521.9 882.5,524.3 883.3,531.3 884.2,531.5 885.1,525.7 886.0,531.0 886.8,532.3 887.7,530.7 888.6,530.5 889.5,533.6 890.4,532.4 891.2,530.6 892.1,532.4 893.0,531.9 893.9,530.8 894.8,523.5 895.6,530.8 896.5,530.4 897.4,532.0 898.3,531.5 899.1,532.5 900.0,531.1 900.9,531.9 901.8,532.2 902.7,531.1 903.5,534.8 904.4,530.9 905.3,531.7 906.2,533.8 907.1,531.9 907.9,528.0 908.8,530.4 909.7,531.9 910.6,534.3 911.4,532.5 912.3,526.4 913.2,530.9 914.1,532.1 915.0,532.1 915.8,526.8 916.7,522.8 917.6,531.6 918.5,531.6 919.4,532.6 920.2,532.2 921.1,532.0 922.0,535.0 922.9,531.8 923.7,531.4 924.6,532.4 925.5,521.0 926.4,531.5 927.3,527.3 928.1,532.3 929.0,526.5 929.9,526.6 930.8,532.6 931.7,530.7 932.5,534.0 933.4,531.5 934.3,530.9 935.2,531.7 936.0,532.6 936.9,533.6 937.8,531.8 938.7,513.8 939.6,531.4 940.4,533.4 941.3,532.3 942.2,531.4 943.1,522.6 943.9,531.9 944.8,522.6 945.7,523.5 946.6,521.8 947.5,530.3 948.3,531.9 949.2,459.2 950.1,531.6 951.0,530.9 951.9,531.1 952.7,530.3 953.6,531.6 954.5,532.2 955.4,530.6 956.2,532.6 957.1,532.6 958.0,532.4 958.9,531.4 959.8,531.7 960.6,530.7 961.5,531.8 962.4,530.8 963.3,523.1 964.2,534.9 965.0,528.8 965.9,530.9 966.8,525.1 967.7,531.7 968.5,528.4 969.4,535.1 970.3,530.8 971.2,532.5 972.1,530.7 972.9,518.7 973.8,530.7 974.7,527.6 975.6,530.9 976.5,528.1 977.3,531.6 978.2,531.8 979.1,531.1 980.0,527.8 980.8,530.5 981.7,531.8 982.6,531.6 983.5,534.4 984.4,532.2 985.2,531.5 986.1,530.5 987.0,534.4 987.9,530.5 988.8,532.5 989.6,531.5 990.5,520.9 991.4,531.0 992.3,509.9 993.1,531.2 994.0,530.9 994.9,531.9 995.8,531.1 996.7,531.9 997.5,530.6 998.4,530.3 999.3,531.1 1000.2,530.5 1001.0,530.4 1001.9,520.3 1002.8,530.4 1003.7,534.3 1004.6,525.0 1005.4,530.8 1006.3,532.4 1007.2,525.8 1008.1,530.6 1009.0,514.2 1009.8,530.3 1010.7,534.0 1011.6,532.4 1012.5,531.1 1013.3,530.4 1014.2,531.5 1015.1,532.4 1016.0,525.9 1016.9,530.5 1017.7,530.9 1018.6,532.4 1019.5,532.1 1020.4,530.9 1021.3,532.2 1022.1,531.9 1023.0,531.6 1023.9,530.5 1024.8,532.5 1025.6,534.0 1026.5,530.9 1027.4,530.4 1028.3,532.0 1029.2,532.1 1030.0,531.8 1030.9,530.5 1031.8,530.4 1032.7,531.3 1033.6,530.7 1034.4,531.4 1035.3,530.3 1036.2,525.4 1037.1,528.0 1037.9,531.9 1038.8,532.6 1039.7,532.5 1040.6,531.9 1041.5,522.5 1042.3,532.1 1043.2,530.8 1044.1,533.9 1045.0,531.3 1045.9,530.9 1046.7,531.5 1047.6,471.0 1048.5,531.9 1049.4,532.4 1050.2,530.5 1051.1,531.4 1052.0,530.6 1052.9,531.8 1053.8,521.1 1054.6,512.4 1055.5,531.8 1056.4,530.7 1057.3,530.8 1058.2,530.6 1059.0,522.7 1059.9,530.5 1060.8,532.2 1061.7,531.1 1062.5,522.1 1063.4,530.8 1064.3,532.2 1065.2,531.2 1066.1,531.2 1066.9,532.5 1067.8,530.3 1068.7,530.9 1069.6,531.6 1070.4,532.6 1071.3,530.9 1072.2,531.1 1073.1,531.9 1074.0,530.4 1074.8,532.0 1075.7,535.2 1076.6,521.5 1077.5,522.6 1078.4,533.8 1079.2,532.0 1080.1,531.5 1081.0,527.1 1081.9,523.9 1082.7,521.3 1083.6,527.6 1084.5,532.3 1085.4,530.7 1086.3,524.3 1087.1,533.9 1088.0,531.2 1088.9,532.0 1089.8,532.0 1090.7,531.9 1091.5,530.4 1092.4,521.4 1093.3,530.9 1094.2,531.3 1095.0,530.7 1095.9,534.9 1096.8,531.2 1097.7,524.7 1098.6,532.1 1099.4,522.1 1100.3,504.2 1101.2,532.2 1102.1,533.4 1103.0,531.0 1103.8,530.3 1104.7,530.9 1105.6,531.3 1106.5,530.8 1107.3,532.1 1108.2,521.0 1109.1,532.4 1110.0,523.8 1110.9,531.6 1111.7,531.0 1112.6,531.9 1113.5,535.1 1114.4,530.5 1115.3,530.5 1116.1,531.2 1117.0,520.5 1117.9,531.7 1118.8,530.6 1119.6,532.5 1120.5,531.1 1121.4,532.5 1122.3,531.9 1123.2,532.2 1124.0,532.0 1124.9,534.5 1125.8,532.0 1126.7,531.4 1127.5,530.7 1128.4,526.7 1129.3,528.4 1130.2,532.3 1131.1,514.5 1131.9,526.9 1132.8,531.0 1133.7,532.4 1134.6,531.3 1135.5,530.9 1136.3,532.2 1137.2,531.3 1138.1,531.9 1139.0,526.4 1139.8,524.2 1140.7,532.5 1141.6,531.2 1142.5,532.2 1143.4,532.1 1144.2,519.8 1145.1,530.9 1146.0,531.5 1146.9,530.6 1147.8,531.2 1148.6,512.0 1149.5,530.3 1150.4,532.6 1151.3,522.1 1152.1,526.8 1153.0,530.8 1153.9,527.0 1154.8,520.8 1155.7,522.1 1156.5,532.3 1157.4,530.9 1158.3,525.5 1159.2,531.4 1160.1,531.9 1160.9,527.1 1161.8,531.1 1162.7,531.4 1163.6,532.4 1164.4,513.6 1165.3,531.5 1166.2,531.1 1167.1,524.2 1168.0,524.6 1168.8,530.9 1169.7,531.3 1170.6,530.5 1171.5,534.4 1172.4,530.6 1173.2,516.5 1174.1,532.3 1175.0,527.1 1175.9,531.3 1176.7,521.4 1177.6,531.3 1178.5,531.4 1179.4,522.9 1180.3,531.8 1181.1,530.3 1182.0,530.8 1182.9,535.1 1183.8,534.8 1184.6,524.0 1185.5,531.0 1186.4,531.0 1187.3,531.1 1188.2,530.9 1189.0,530.8 1189.9,531.7 1190.8,530.5 1191.7,530.9 1192.6,530.8 1193.4,521.3 1194.3,531.6 1195.2,530.5 1196.1,531.5 1196.9,532.4 1197.8,532.3 1198.7,531.6 1199.6,532.4 1200.5,531.9 1201.3,530.4 1202.2,531.9 1203.1,531.0 1204.0,530.7 1204.9,532.1 1205.7,531.0 1206.6,532.4 1207.5,531.9 1208.4,524.1 1209.2,531.7 1210.1,531.2 1211.0,531.9 1211.9,532.6 1212.8,532.1 1213.6,530.7 1214.5,532.2 1215.4,531.9 1216.3,531.0 1217.2,531.1 1218.0,525.6 1218.9,530.3 1219.8,514.4 1220.7,531.6 1221.5,530.6 1222.4,530.3 1223.3,530.3 1224.2,530.6 1225.1,534.9 1225.9,531.3 1226.8,530.7 1227.7,522.8 1228.6,528.8 1229.5,531.9 1230.3,530.4 1231.2,515.1 1232.1,532.0 1233.0,532.4 1233.8,531.1 1234.7,533.5 1235.6,531.6 1236.5,532.3 1237.4,531.1 1238.2,531.6 1239.1,534.2 1240.0,531.5 1240.9,532.6 1241.7,531.3 1242.6,532.4 1243.5,532.1 1244.4,532.4 1245.3,532.4 1246.1,532.0 1247.0,531.0 1247.9,530.4 1248.8,532.4 1249.7,532.4 1250.5,526.3 1251.4,531.2 1252.3,522.3 1253.2,530.9 1254.0,530.3 1254.9,531.8 1255.8,532.5 1256.7,532.2 1257.6,532.4 1258.4,532.5 1259.3,530.8 1260.2,532.0 1261.1,531.9 1262.0,532.2 1262.8,522.6 1263.7,530.3 1264.6,514.9 1265.5,523.3 1266.3,532.3 1267.2,533.4 1268.1,530.4 1269.0,530.3 1269.9,531.3 1270.7,506.4 1271.6,500.8 1272.5,466.0 1273.4,530.9 1274.3,531.2 1275.1,520.7 1276.0,514.4 1276.9,530.8 1277.8,531.9 1278.6,532.1 1279.5,504.2 1280.4,450.2 1281.3,523.2 1282.2,531.1 1283.0,532.3 1283.9,518.7 1284.8,464.0 1285.7,519.3 1286.6,532.0 1287.4,513.0 1288.3,532.4 1289.2,531.7 1290.1,534.0 1290.9,530.9 1291.8,487.9 1292.7,531.3 1293.6,473.0 1294.5,530.8 1295.3,535.0 1296.2,515.4 1297.1,524.9 1298.0,460.7 1298.9,520.8 1299.7,530.5 1300.6,459.0 1301.5,506.0 1302.4,461.1 1303.2,530.6 1304.1,530.7 1305.0,530.3 1305.9,532.5 1306.8,484.8 1307.6,531.1 1308.5,523.8 1309.4,532.0 1310.3,531.6 1311.1,468.9 1312.0,510.6 1312.9,464.0 1313.8,525.3 1314.7,510.1 1315.5,531.1 1316.4,512.0 1317.3,530.3 1318.2,531.5 1319.1,531.1 1319.9,508.2 1320.8,530.4 1321.7,515.5 1322.6,530.9 1323.4,531.8 1324.3,532.5 1325.2,531.1 1326.1,530.9 1327.0,492.7 1327.8,532.5 1328.7,530.5 1329.6,531.2 1330.5,532.2 1331.4,514.5 1332.2,527.5 1333.1,530.9 1334.0,468.0 1334.9,513.5 1335.7,512.9 1336.6,526.7 1337.5,457.0 1338.4,524.9 1339.3,521.6 1340.1,510.9 1341.0,514.1 1341.9,520.8 1342.8,522.6 1343.7,533.6 1344.5,530.8 1345.4,533.9 1346.3,532.4 1347.2,530.3 1348.0,530.4 1348.9,530.8 1349.8,531.3 1350.7,530.5 1351.6,523.7 1352.4,531.3 1353.3,531.3 1354.2,523.1 1355.1,528.4 1356.0,466.0 1356.8,531.2 1357.7,530.4 1358.6,510.9 1359.5,523.3 1360.3,522.3 1361.2,530.4 1362.1,520.7 1363.0,524.5 1363.9,530.8 1364.7,531.2 1365.6,530.6 1366.5,511.4" stroke="#00c000"/>
<path d="M101.5 534.5H1366.5" stroke="#0080ff"/>
<polyline points="101.5,515.1 102.4,524.1 103.3,524.2 104.1,501.7 105.0,533.8 105.9,535.0 106.8,533.6 107.6,535.1 108.5,534.0 109.4,534.3 110.3,524.8 111.2,523.0 112.0,520.1 112.9,534.1 113.8,533.7 114.7,534.6 115.6,524.1 116.4,523.6 117.3,534.1 118.2,534.6 119.1,523.7 119.9,523.9 120.8,534.6 121.7,534.8 122.6,534.5 123.5,534.5 124.3,524.8 125.2,523.5 126.1,524.6 127.0,535.2 127.9,535.2 128.7,534.4 129.6,533.7 130.5,522.7 131.4,524.7 132.2,523.1 133.1,533.6 134.0,534.9 134.9,535.0 135.8,534.7 136.6,534.8 137.5,533.9 138.4,524.5 139.3,522.6 140.2,524.6 141.0,523.7 141.9,535.2 142.8,535.0 143.7,533.6 144.5,533.9 145.4,490.0 146.3,523.8 147.2,524.8 148.1,523.7 148.9,534.4 149.8,534.2 150.7,524.2 151.6,523.2 152.5,525.3 153.3,533.9 154.2,534.5 206.9,534.5 207.8,534.8 208.7,535.0 209.6,524.9 210.4,524.1 211.3,523.3 212.2,523.0 213.1,535.1 213.9,534.6 214.8,523.8 215.7,524.5 216.6,523.1 217.5,534.8 218.3,534.6 219.2,534.2 220.1,533.8 221.0,522.8 221.8,523.0 222.7,525.3 223.6,534.8 224.5,534.2 225.4,534.0 226.2,523.1 227.1,523.7 228.0,522.8 228.9,524.4 229.8,533.8 230.6,533.7 231.5,533.6 232.4,533.6 233.3,522.8 234.1,524.3 235.0,535.3 235.9,534.2 236.8,535.0 237.7,522.9 238.5,524.8 239.4,522.3 240.3,535.2 241.2,518.2 242.1,534.4 242.9,535.3 243.8,534.4 244.7,534.7 245.6,535.0 246.4,534.8 247.3,524.1 248.2,524.3 249.1,525.3 250.0,523.5 250.8,535.4 251.7,535.1 252.6,533.9 253.5,534.2 254.4,535.0 255.2,535.4 256.1,534.0 257.0,522.9 257.9,524.4 258.7,524.8 259.6,534.4 260.5,534.2 261.4,534.0 262.3,534.1 263.1,523.3 264.0,523.8 264.9,523.2 265.8,534.2 266.7,535.0 267.5,534.2 268.4,521.8 269.3,524.2 270.2,535.2 271.0,534.2 271.9,534.2 272.8,533.9 273.7,534.0 274.6,535.3 275.4,524.0 276.3,523.2 277.2,523.8 278.1,534.9 279.0,534.0 279.8,534.9 280.7,534.4 281.6,533.6 282.5,525.2 283.3,523.7 284.2,524.0 285.1,533.7 286.0,534.6 286.9,535.2 287.7,523.0 288.6,534.3 289.5,533.8 290.4,533.8 291.2,534.3 292.1,525.1 293.0,523.4 293.9,522.8 294.8,533.9 295.6,533.7 296.5,535.3 297.4,525.1 298.3,524.7 299.2,534.9 300.0,534.3 300.9,535.2 301.8,535.1 302.7,534.6 303.5,534.0 304.4,533.9 305.3,534.6 306.2,524.9 307.1,524.4 307.9,523.8 308.8,534.4 309.7,534.2 310.6,524.2 311.5,523.7 312.3,521.1 313.2,534.8 314.1,534.8 315.0,533.7 315.8,534.5 316.7,533.6 317.6,534.8 318.5,534.7 319.4,533.8 320.2,523.8 321.1,523.4 322.0,523.7 322.9,535.1 323.8,534.3 324.6,534.0 325.5,533.9 326.4,534.6 327.3,533.8 328.1,523.6 329.0,524.2 329.9,523.1 330.8,524.1 331.7,533.7 332.5,514.0 333.4,535.1 334.3,525.1 335.2,524.7 336.1,522.7 336.9,524.5 337.8,533.8 338.7,534.8 339.6,535.4 340.4,534.2 341.3,535.4 342.2,535.4 343.1,525.2 344.0,522.6 344.8,523.0 345.7,534.0 346.6,535.1 347.5,534.7 348.3,534.6 349.2,534.1 350.1,534.1 351.0,523.8 351.9,523.5 352.7,533.9 353.6,535.3 354.5,533.6 355.4,535.2 356.3,525.3 357.1,523.0 358.0,534.2 358.9,533.7 359.8,534.2 360.6,525.1 361.5,524.6 362.4,524.4 363.3,524.6 364.2,535.4 365.0,534.2 365.9,534.6 366.8,534.3 367.7,534.2 368.6,534.6 369.4,534.6 370.3,533.6 371.2,534.2 372.1,520.7 372.9,523.2 373.8,524.5 374.7,535.0 375.6,535.2 376.5,535.2 377.3,525.3 378.2,524.3 379.1,524.3 380.0,522.7 380.9,534.3 381.7,534.6 382.6,523.7 383.5,524.1 384.4,534.8 385.2,535.1 386.1,534.6 387.0,534.3 387.9,534.9 388.8,534.3 389.6,522.5 390.5,525.0 391.4,522.9 392.3,535.4 393.2,534.9 394.0,535.1 394.9,533.9 395.8,533.9 396.7,523.0 397.5,524.7 398.4,535.4 399.3,534.7 400.2,513.8 401.1,534.0 401.9,534.9 402.8,534.3 403.7,524.9 404.6,525.2 405.4,524.7 406.3,523.8 407.2,534.4 408.1,535.0 409.0,534.5 409.8,535.1 410.7,533.6 411.6,534.2 412.5,535.0 413.4,534.8 414.2,534.5 415.1,523.8 416.0,524.3 416.9,533.8 417.7,534.9 418.6,523.2 419.5,524.8 420.4,522.8 421.3,534.9 422.1,534.5 423.0,535.4 423.9,524.9 424.8,522.7 425.7,522.8 426.5,533.6 427.4,534.0 428.3,534.8 429.2,534.5 430.0,534.8 430.9,524.4 431.8,524.5 432.7,534.9 433.6,534.3 434.4,535.3 435.3,534.1 436.2,534.3 437.1,535.3 438.0,535.2 438.8,514.5 439.7,533.8 440.6,523.3 441.5,524.0 442.3,524.3 443.2,525.1 444.1,534.2 445.0,534.1 445.9,535.3 446.7,524.0 447.6,502.5 448.5,534.9 449.4,534.4 450.3,535.0 451.1,535.0 452.0,523.6 452.9,524.2 453.8,523.8 454.6,523.4 455.5,533.9 456.4,534.6 457.3,534.3 458.2,534.8 459.0,534.8 459.9,534.9 460.8,525.2 461.7,519.1 462.5,524.9 463.4,522.6 464.3,534.0 465.2,534.0 466.1,533.7 466.9,535.2 467.8,535.0 468.7,534.8 469.6,522.8 470.5,524.1 471.3,518.1 472.2,534.1 473.1,534.5 474.0,514.3 474.8,524.7 475.7,523.2 476.6,524.7 477.5,524.6 478.4,535.3 479.2,534.4 480.1,534.7 481.0,533.8 481.9,533.8 482.8,534.7 483.6,534.9 484.5,534.8 485.4,523.9 486.3,522.8 487.1,523.3 488.0,535.3 488.9,534.6 489.8,534.2 490.7,534.4 491.5,535.1 492.4,522.7 493.3,523.6 494.2,534.2 495.1,533.6 495.9,534.1 496.8,535.0 497.7,534.1 498.6,524.6 499.4,524.6 500.3,524.4 501.2,523.3 502.1,533.7 503.0,534.2 503.8,535.4 504.7,535.1 505.6,534.7 506.5,524.6 507.4,523.0 508.2,523.6 509.1,534.4 510.0,533.9 510.9,535.4 511.7,533.7 512.6,534.8 513.5,534.9 514.4,524.2 515.3,523.5 516.1,521.9 517.0,523.0 517.9,534.9 518.8,534.4 519.7,523.9 520.5,524.0 521.4,522.8 522.3,534.7 523.2,535.1 524.0,524.9 524.9,522.6 525.8,524.0 526.7,524.7 527.6,533.6 528.4,534.5 529.3,525.3 530.2,524.7 531.1,535.0 531.9,533.8 532.8,523.4 533.7,523.0 534.6,524.5 535.5,533.7 536.3,535.2 537.2,535.3 538.1,534.9 539.0,522.7 539.9,525.1 540.7,522.9 541.6,533.8 542.5,534.3 543.4,520.1 544.2,523.6 545.1,524.5 546.0,523.3 546.9,524.4 547.8,533.8 548.6,534.8 549.5,533.7 550.4,535.4 551.3,535.4 552.2,533.8 553.0,522.6 553.9,524.7 554.8,535.3 555.7,535.1 556.5,534.0 557.4,533.6 558.3,535.4 559.2,523.6 560.1,525.0 560.9,523.7 561.8,533.7 562.7,533.9 563.6,534.0 564.5,533.7 565.3,534.3 566.2,523.8 567.1,524.9 568.0,524.8 568.8,524.9 569.7,534.8 570.6,535.1 571.5,534.0 572.4,535.1 573.2,534.7 574.1,533.9 575.0,523.6 575.9,522.7 576.8,523.5 577.6,535.0 578.5,534.4 579.4,534.5 580.3,533.7 581.1,534.9 582.0,534.1 582.9,525.0 583.8,523.4 584.7,504.7 585.5,533.8 586.4,534.1 587.3,534.2 588.2,535.3 589.0,533.7 589.9,534.4 590.8,524.2 591.7,523.4 592.6,525.3 593.4,523.1 594.3,535.4 595.2,533.8 596.1,524.0 597.0,522.9 597.8,523.1 598.7,534.2 599.6,535.1 600.5,534.8 601.3,535.1 602.2,535.1 603.1,525.1 604.0,523.4 604.9,534.1 605.7,535.1 606.6,512.0 607.5,523.0 608.4,525.2 609.3,535.2 610.1,520.8 611.0,533.6 611.9,533.8 612.8,525.2 613.6,524.8 614.5,533.9 615.4,534.9 616.3,534.4 617.2,534.6 618.0,535.0 618.9,535.3 619.8,534.9 620.7,523.0 621.6,524.5 622.4,524.5 623.3,534.7 624.2,534.6 625.1,514.0 625.9,535.1 626.8,534.9 627.7,523.4 628.6,524.4 629.5,525.1 630.3,534.5 631.2,533.6 632.1,533.9 633.0,533.8 633.9,534.0 634.7,522.6 635.6,524.8 636.5,522.6 637.4,534.7 638.2,533.5 639.1,534.1 640.0,534.6 640.9,535.0 641.8,533.7 642.6,522.8 643.5,523.8 644.4,525.0 645.3,524.1 646.1,534.4 647.0,505.5 647.9,535.3 648.8,523.5 649.7,523.3 650.5,522.6 651.4,534.4 652.3,534.1 653.2,534.6 654.1,524.2 654.9,524.5 655.8,524.9 656.7,533.6 657.6,521.5 658.4,535.0 659.3,534.4 660.2,523.0 661.1,523.1 662.0,524.2 662.8,523.7 663.7,534.7 664.6,535.4 665.5,522.8 666.4,523.7 667.2,523.1 668.1,534.5 669.0,534.8 669.9,534.2 670.7,534.1 671.6,522.3 672.5,522.9 673.4,524.3 674.3,524.4 675.1,535.2 676.0,533.9 676.9,533.9 677.8,534.3 678.7,534.7 679.5,524.4 680.4,522.3 681.3,524.0 682.2,535.1 683.0,534.7 683.9,533.9 684.8,524.6 685.7,525.2 686.6,534.8 687.4,534.9 688.3,535.3 689.2,534.6 690.1,534.2 691.0,534.8 691.8,535.2 692.7,533.9 693.6,535.4 694.5,522.5 695.3,523.0 696.2,524.1 697.1,534.5 698.0,535.2 698.9,522.8 699.7,524.9 700.6,522.9 701.5,525.0 702.4,534.4 703.2,535.0 704.1,519.0 705.0,524.5 705.9,523.7 706.8,523.8 707.6,534.7 708.5,535.0 709.4,534.1 710.3,522.6 711.2,523.7 712.0,533.8 712.9,534.6 713.8,533.6 714.7,535.0 715.5,533.7 716.4,534.9 717.3,525.0 718.2,525.0 719.1,523.7 719.9,534.7 720.8,535.0 721.7,523.3 722.6,525.3 723.5,523.2 724.3,533.7 725.2,534.6 726.1,533.6 727.0,534.2 727.8,534.8 728.7,535.3 729.6,524.2 730.5,523.3 731.4,524.7 732.2,533.8 733.1,535.1 734.0,534.9 734.9,534.2 735.8,534.8 736.6,534.0 737.5,524.6 738.4,523.3 739.3,516.3 740.1,534.2 741.0,534.4 741.9,533.7 742.8,524.7 743.7,525.2 744.5,523.0 745.4,524.7 746.3,534.9 747.2,535.3 748.1,534.3 748.9,534.0 749.8,535.1 750.7,534.3 751.6,524.4 752.4,525.3 753.3,534.8 754.2,534.6 755.1,534.3 756.0,534.8 756.8,521.4 757.7,535.4 758.6,534.8 759.5,522.7 760.4,525.3 761.2,524.6 762.1,534.7 763.0,533.9 763.9,533.8 764.7,523.3 765.6,524.9 766.5,522.8 767.4,534.5 768.3,533.7 769.1,524.5 770.0,523.6 770.9,525.0 771.8,524.6 772.6,534.0 773.5,535.4 774.4,535.2 775.3,533.6 776.2,533.8 777.0,534.5 777.9,534.1 778.8,535.4 779.7,533.7 780.6,534.5 781.4,535.4 782.3,534.5 783.2,523.9 784.1,523.6 784.9,522.7 785.8,535.1 786.7,534.2 787.6,535.3 788.5,525.3 789.3,523.4 790.2,523.8 791.1,535.1 792.0,535.4 792.9,533.8 793.7,523.3 794.6,525.1 795.5,523.2 796.4,535.1 797.2,534.3 798.1,535.0 799.0,534.1 799.9,522.8 800.8,522.7 801.6,523.1 802.5,535.2 803.4,535.2 804.3,534.2 805.2,533.9 806.0,534.0 806.9,533.7 807.8,535.3 808.7,533.5 809.5,534.6 810.4,534.1 811.3,533.9 812.2,533.7 813.1,534.7 813.9,534.5 814.8,534.7 815.7,535.2 816.6,534.5 817.5,534.5 818.3,534.6 819.2,533.8 820.1,534.2 821.0,522.8 821.8,523.6 822.7,534.9 823.6,534.5 824.5,534.4 825.4,534.6 826.2,524.9 827.1,523.3 828.0,523.8 828.9,534.1 829.7,535.1 830.6,534.4 831.5,524.1 832.4,524.8 833.3,534.4 834.1,533.9 835.0,534.6 835.9,535.4 836.8,534.0 837.7,523.5 838.5,525.0 839.4,534.2 840.3,535.2 841.2,534.6 842.0,533.6 842.9,535.3 843.8,534.6 844.7,522.7 845.6,523.2 846.4,522.8 847.3,524.9 848.2,534.3 849.1,535.3 850.0,534.6 850.8,534.2 851.7,533.6 852.6,535.1 853.5,523.7 854.3,524.0 855.2,522.6 856.1,523.7 857.0,534.0 857.9,534.5 858.7,535.3 859.6,525.2 860.5,523.5 861.4,525.1 862.3,523.7 863.1,534.0 864.0,535.2 864.9,533.7 865.8,523.2 866.6,514.7 867.5,524.7 868.4,533.8 869.3,533.9 870.2,534.1 871.0,534.3 871.9,523.1 872.8,522.7 873.7,523.9 874.6,535.2 875.4,533.7 876.3,534.0 877.2,534.7 878.1,535.3 878.9,535.4 879.8,519.6 880.7,524.6 881.6,525.1 882.5,535.3 883.3,533.8 884.2,524.4 885.1,523.7 886.0,523.9 886.8,522.6 887.7,534.0 888.6,534.4 889.5,535.4 890.4,522.9 891.2,524.2 892.1,523.3 893.0,533.8 893.9,534.0 894.8,535.4 895.6,533.6 896.5,534.4 897.4,535.4 898.3,524.2 899.1,525.2 900.0,524.5 900.9,535.1 901.8,534.9 902.7,522.8 903.5,523.8 904.4,534.7 905.3,534.0 906.2,534.0 907.1,534.5 907.9,525.1 908.8,524.9 909.7,523.0 910.6,523.6 911.4,535.0 912.3,534.2 913.2,517.4 914.1,535.2 915.0,533.8 915.8,524.9 916.7,522.6 917.6,524.1 918.5,534.1 919.4,533.8 920.2,535.0 921.1,522.6 922.0,523.4 922.9,522.7 923.7,525.1 924.6,535.2 925.5,533.9 926.4,533.7 927.3,534.1 928.1,535.1 929.0,524.3 929.9,523.6 930.8,523.2 931.7,534.3 932.5,533.8 933.4,534.0 934.3,534.3 935.2,533.7 936.0,534.2 936.9,525.2 937.8,525.2 938.7,522.7 939.6,535.1 940.4,533.8 941.3,534.8 942.2,534.8 943.1,534.8 943.9,534.4 944.8,524.1 945.7,523.6 946.6,525.2 947.5,534.6 948.3,534.5 949.2,523.4 950.1,522.7 951.0,524.7 951.9,523.6 952.7,534.2 953.6,533.8 954.5,533.8 955.4,534.2 956.2,535.0 957.1,523.9 958.0,525.2 958.9,523.2 959.8,523.5 960.6,535.4 961.5,533.6 962.4,534.9 963.3,534.0 964.2,525.1 965.0,522.6 965.9,523.7 966.8,523.6 967.7,520.9 968.5,534.2 969.4,534.0 970.3,534.0 971.2,524.2 972.1,523.2 972.9,524.1 973.8,533.9 974.7,521.9 975.6,534.3 976.5,535.2 977.3,524.3 978.2,523.4 979.1,523.1 980.0,525.0 980.8,534.3 981.7,534.5 982.6,533.9 983.5,534.7 984.4,514.6 985.2,522.6 986.1,525.1 987.0,534.3 987.9,533.7 988.8,533.6 989.6,534.1 990.5,523.5 991.4,524.4 992.3,523.2 993.1,534.1 994.0,534.2 994.9,534.6 995.8,534.1 996.7,534.7 997.5,523.4 998.4,524.2 999.3,535.1 1000.2,535.4 1001.0,519.3 1001.9,522.9 1002.8,525.3 1003.7,525.1 1004.6,516.3 1005.4,534.3 1006.3,534.8 1007.2,534.7 1008.1,534.6 1009.0,533.8 1009.8,534.6 1010.7,524.7 1011.6,523.4 1012.5,522.8 1013.3,525.0 1014.2,533.7 1015.1,534.1 1016.0,534.6 1016.9,534.8 1017.7,534.8 1018.6,534.2 1019.5,524.9 1020.4,525.3 1021.3,522.7 1022.1,535.0 1023.0,534.7 1023.9,534.4 1024.8,534.1 1025.6,534.5 1026.5,524.3 1027.4,524.9 1028.3,524.3 1029.2,535.2 1030.0,533.6 1030.9,534.7 1031.8,535.2 1032.7,535.2 1033.6,524.0 1034.4,524.5 1035.3,524.8 1036.2,534.7 1037.1,534.1 1037.9,534.1 1038.8,515.5 1039.7,522.6 1040.6,514.4 1041.5,534.4 1042.3,534.3 1043.2,518.0 1044.1,534.9 1045.0,533.9 1045.9,525.2 1046.7,524.5 1047.6,534.7 1048.5,535.2 1049.4,533.6 1050.2,523.8 1051.1,522.8 1052.0,522.8 1052.9,534.0 1053.8,534.0 1054.6,534.4 1055.5,523.1 1056.4,523.1 1057.3,522.7 1058.2,534.4 1059.0,534.9 1059.9,519.1 1060.8,534.9 1061.7,535.3 1062.5,535.4 1063.4,523.9 1064.3,522.6 1065.2,525.2 1066.1,534.7 1066.9,534.6 1067.8,534.1 1068.7,533.8 1069.6,534.1 1070.4,533.8 1071.3,524.5 1072.2,523.9 1073.1,534.4 1074.0,534.5 1074.8,534.5 1075.7,522.7 1076.6,523.1 1077.5,524.5 1078.4,524.8 1079.2,514.4 1080.1,534.9 1081.0,534.5 1081.9,522.6 1082.7,523.4 1083.6,535.4 1084.5,535.2 1085.4,534.7 1086.3,534.1 1087.1,535.3 1088.0,533.6 1088.9,446.0 1089.8,524.0 1090.7,522.5 1091.5,535.1 1092.4,534.5 1093.3,534.5 1094.2,533.6 1095.0,533.5 1095.9,535.2 1096.8,533.6 1097.7,519.9 1098.6,523.2 1099.4,522.7 1100.3,524.2 1101.2,533.7 1102.1,533.8 1103.0,534.7 1103.8,534.1 1104.7,525.1 1105.6,523.2 1106.5,524.9 1107.3,535.4 1108.2,534.8 1109.1,535.4 1110.0,524.4 1110.9,524.6 1111.7,533.5 1112.6,534.1 1113.5,534.5 1114.4,534.4 1115.3,533.6 1116.1,519.5 1117.0,534.7 1117.9,533.7 1118.8,534.0 1119.6,523.8 1120.5,523.2 1121.4,523.7 1122.3,522.8 1123.2,535.1 1124.0,533.7 1124.9,525.0 1125.8,524.7 1126.7,535.1 1127.5,533.9 1128.4,534.7 1129.3,524.1 1130.2,524.5 1131.1,525.0 1131.9,534.7 1132.8,534.3 1133.7,535.0 1134.6,533.6 1135.5,533.9 1136.3,535.1 1137.2,517.9 1138.1,492.0 1139.0,525.3 1139.8,523.2 1140.7,533.7 1141.6,535.4 1142.5,534.1 1143.4,523.1 1144.2,524.0 1145.1,534.8 1146.0,518.3 1146.9,534.2 1147.8,533.9 1148.6,524.1 1149.5,523.3 1150.4,523.4 1151.3,534.2 1152.1,534.9 1153.0,533.6 1153.9,534.0 1154.8,534.7 1155.7,534.4 1156.5,534.6 1157.4,534.1 1158.3,534.9 1159.2,534.9 1160.1,535.3 1160.9,534.0 1161.8,535.3 1162.7,534.1 1163.6,534.0 1164.4,534.0 1165.3,533.6 1166.2,535.1 1167.1,534.3 1168.0,524.7 1168.8,525.2 1169.7,525.2 1170.6,535.1 1171.5,535.4 1172.4,534.1 1173.2,535.3 1174.1,516.9 1175.0,524.1 1175.9,523.9 1176.7,525.0 1177.6,524.3 1178.5,533.6 1179.4,534.4 1180.3,534.9 1181.1,534.9 1182.0,534.6 1182.9,533.6 1183.8,523.1 1184.6,525.0 1185.5,522.9 1186.4,534.8 1187.3,534.2 1188.2,514.0 1189.0,533.8 1189.9,525.3 1190.8,522.8 1191.7,523.2 1192.6,523.6 1193.4,534.6 1194.3,533.6 1195.2,534.3 1196.1,535.3 1196.9,524.1 1197.8,524.6 1198.7,525.2 1199.6,534.4 1200.5,535.3 1201.3,535.0 1202.2,517.2 1203.1,523.3 1204.0,513.5 1204.9,523.4 1205.7,534.6 1206.6,534.5 1207.5,535.3 1208.4,535.1 1209.2,534.4 1210.1,518.4 1211.0,533.6 1211.9,534.1 1212.8,533.6 1213.6,523.2 1214.5,525.3 1215.4,522.6 1216.3,535.3 1217.2,534.5 1218.0,534.2 1218.9,535.2 1219.8,534.1 1220.7,523.5 1221.5,514.2 1222.4,524.1 1223.3,534.7 1224.2,535.4 1225.1,534.8 1225.9,534.2 1226.8,522.8 1227.7,523.9 1228.6,524.2 1229.5,535.2 1230.3,533.7 1231.2,533.7 1232.1,534.2 1233.0,534.8 1233.8,525.1 1234.7,524.8 1235.6,522.8 1236.5,534.7 1237.4,535.3 1238.2,534.5 1239.1,535.2 1240.0,534.5 1240.9,534.1 1241.7,524.3 1242.6,525.3 1243.5,533.9 1244.4,535.4 1245.3,534.7 1246.1,525.2 1247.0,524.5 1247.9,534.9 1248.8,534.5 1249.7,534.9 1250.5,535.0 1251.4,533.7 1252.3,535.3 1253.2,523.7 1254.0,523.6 1254.9,522.9 1255.8,535.3 1256.7,516.7 1257.6,511.4 1258.4,535.1 1259.3,523.2 1260.2,523.7 1261.1,501.4 1262.0,534.2 1262.8,487.7 1263.7,534.3 1264.6,534.6 1265.5,534.6 1266.3,521.1 1267.2,523.2 1268.1,525.0 1269.0,522.7 1269.9,534.7 1270.7,534.8 1271.6,531.2 1272.5,522.8 1273.4,509.7 1274.3,518.2 1275.1,533.9 1276.0,535.2 1276.9,522.8 1277.8,518.5 1278.6,525.1 1279.5,517.6 1280.4,534.8 1281.3,517.7 1282.2,535.3 1283.0,535.4 1283.9,534.2 1284.8,515.4 1285.7,533.9 1286.6,533.6 1287.4,534.8 1288.3,524.5 1289.2,523.2 1290.1,522.7 1290.9,522.7 1291.8,526.5 1292.7,534.5 1293.6,534.0 1294.5,525.0 1295.3,524.5 1296.2,492.5 1297.1,505.2 1298.0,473.0 1298.9,535.2 1299.7,520.0 1300.6,516.8 1301.5,524.8 1302.4,524.4 1303.2,523.3 1304.1,473.0 1305.0,474.7 1305.9,534.0 1306.8,534.4 1307.6,534.8 1308.5,524.7 1309.4,521.8 1310.3,524.6 1311.1,534.9 1312.0,534.5 1312.9,535.1 1313.8,522.7 1314.7,520.9 1315.5,521.3 1316.4,533.7 1317.3,534.4 1318.2,499.6 1319.1,510.4 1319.9,523.3 1320.8,534.5 1321.7,534.2 1322.6,534.0 1323.4,535.0 1324.3,512.3 1325.2,534.7 1326.1,493.1 1327.0,523.2 1327.8,525.2 1328.7,535.4 1329.6,534.8 1330.5,496.6 1331.4,534.1 1332.2,534.4 1333.1,504.4 1334.0,522.9 1334.9,535.2 1335.7,534.4 1336.6,535.1 1337.5,511.0 1338.4,505.5 1339.3,522.7 1340.1,514.9 1341.0,534.1 1341.9,534.9 1342.8,529.6 1343.7,524.7 1344.5,481.5 1345.4,474.7 1346.3,520.6 1347.2,534.4 1348.0,533.8 1348.9,526.8 1349.8,523.2 1350.7,487.9 1351.6,534.7 1352.4,535.1 1353.3,534.4 1354.2,535.4 1355.1,526.8 1356.0,525.4 1356.8,535.3 1357.7,534.1 1358.6,535.3 1359.5,535.3 1360.3,534.2 1361.2,522.9 1362.1,524.4 1363.0,530.3 1363.9,534.6 1364.7,495.8 1365.6,533.9 1366.5,523.1" stroke="#0080ff"/>
</g>
</g>
<g fill="none" stroke="#c04000" stroke-width="1.3" shape-rendering="crispEdges"><circle cx="103.4" cy="504.4" r="5.2"/><path d="M103.4 497.9v2M103.4 508.9v2M96.9 504.4h2M107.9 504.4h2"/><circle cx="149.3" cy="504.4" r="5.2"/><path d="M149.3 497.9v2M149.3 508.9v2M142.8 504.4h2M153.8 504.4h2"/><circle cx="208.4" cy="507.4" r="5.2"/><path d="M208.4 500.9v2M208.4 511.9v2M201.9 507.4h2M212.9 507.4h2"/><circle cx="255.1" cy="505.6" r="5.2"/><path d="M255.1 499.1v2M255.1 510.1v2M248.6 505.6h2M259.6 505.6h2"/><circle cx="261.3" cy="505.6" r="5.2"/><path d="M261.3 499.1v2M261.3 510.1v2M254.8 505.6h2M265.8 505.6h2"/><circle cx="306.8" cy="505.1" r="5.2"/><path d="M306.8 498.6v2M306.8 509.6v2M300.3 505.1h2M311.3 505.1h2"/><circle cx="314.1" cy="507.0" r="5.2"/><path d="M314.1 500.5v2M314.1 511.5v2M307.6 507.0h2M318.6 507.0h2"/><circle cx="360.0" cy="508.9" r="5.2"/><path d="M360.0 502.4v2M360.0 513.4v2M353.5 508.9h2M364.5 508.9h2"/><circle cx="366.4" cy="504.0" r="5.2"/><path d="M366.4 497.5v2M366.4 508.5v2M359.9 504.0h2M370.9 504.0h2"/><circle cx="413.1" cy="505.3" r="5.2"/><path d="M413.1 498.8v2M413.1 509.8v2M406.6 505.3h2M417.6 505.3h2"/><circle cx="418.9" cy="506.1" r="5.2"/><path d="M418.9 499.6v2M418.9 510.6v2M412.4 506.1h2M423.4 506.1h2"/><circle cx="466.2" cy="502.3" r="5.2"/><path d="M466.2 495.8v2M466.2 506.8v2M459.7 502.3h2M470.7 502.3h2"/><circle cx="472.2" cy="499.4" r="5.2"/><path d="M472.2 492.9v2M472.2 503.9v2M465.7 499.4h2M476.7 499.4h2"/><circle cx="518.1" cy="504.4" r="5.2"/><path d="M518.1 497.9v2M518.1 508.9v2M511.6 504.4h2M522.6 504.4h2"/><circle cx="524.7" cy="506.2" r="5.2"/><path d="M524.7 499.7v2M524.7 510.7v2M518.2 506.2h2M529.2 506.2h2"/><circle cx="571.4" cy="504.7" r="5.2"/><path d="M571.4 498.2v2M571.4 509.2v2M564.9 504.7h2M575.9 504.7h2"/><circle cx="577.5" cy="500.3" r="5.2"/><path d="M577.5 493.8v2M577.5 504.8v2M571.0 500.3h2M582.0 500.3h2"/><circle cx="624.2" cy="505.1" r="5.2"/><path d="M624.2 498.6v2M624.2 509.6v2M617.7 505.1h2M628.7 505.1h2"/><circle cx="630.3" cy="481.4" r="5.2"/><path d="M630.3 474.9v2M630.3 485.9v2M623.8 481.4h2M634.8 481.4h2"/><circle cx="676.1" cy="503.1" r="5.2"/><path d="M676.1 496.6v2M676.1 507.6v2M669.6 503.1h2M680.6 503.1h2"/><circle cx="683.6" cy="490.3" r="5.2"/><path d="M683.6 483.8v2M683.6 494.8v2M677.1 490.3h2M688.1 490.3h2"/><circle cx="729.2" cy="491.4" r="5.2"/><path d="M729.2 484.9v2M729.2 495.9v2M722.7 491.4h2M733.7 491.4h2"/><circle cx="735.4" cy="500.4" r="5.2"/><path d="M735.4 493.9v2M735.4 504.9v2M728.9 500.4h2M739.9 500.4h2"/><circle cx="782.1" cy="501.4" r="5.2"/><path d="M782.1 494.9v2M782.1 505.9v2M775.6 501.4h2M786.6 501.4h2"/><circle cx="788.6" cy="497.1" r="5.2"/><path d="M788.6 490.6v2M788.6 501.6v2M782.1 497.1h2M793.1 497.1h2"/><circle cx="835.1" cy="500.4" r="5.2"/><path d="M835.1 493.9v2M835.1 504.9v2M828.6 500.4h2M839.6 500.4h2"/><circle cx="841.5" cy="502.1" r="5.2"/><path d="M841.5 495.6v2M841.5 506.6v2M835.0 502.1h2M846.0 502.1h2"/><circle cx="887.5" cy="499.3" r="5.2"/><path d="M887.5 492.8v2M887.5 503.8v2M881.0 499.3h2M892.0 499.3h2"/><circle cx="893.5" cy="500.4" r="5.2"/><path d="M893.5 493.9v2M893.5 504.9v2M887.0 500.4h2M898.0 500.4h2"/><circle cx="940.4" cy="499.3" r="5.2"/><path d="M940.4 492.8v2M940.4 503.8v2M933.9 499.3h2M944.9 499.3h2"/><circle cx="946.4" cy="488.1" r="5.2"/><path d="M946.4 481.6v2M946.4 492.6v2M939.9 488.1h2M950.9 488.1h2"/><circle cx="993.1" cy="463.5" r="5.2"/><path d="M993.1 457.0v2M993.1 468.0v2M986.6 463.5h2M997.6 463.5h2"/><circle cx="999.3" cy="489.2" r="5.2"/><path d="M999.3 482.7v2M999.3 493.7v2M992.8 489.2h2M1003.8 489.2h2"/><circle cx="1045.4" cy="482.1" r="5.2"/><path d="M1045.4 475.6v2M1045.4 486.6v2M1038.9 482.1h2M1049.9 482.1h2"/><circle cx="1052.5" cy="479.4" r="5.2"/><path d="M1052.5 472.9v2M1052.5 483.9v2M1046.0 479.4h2M1057.0 479.4h2"/><circle cx="1098.5" cy="304.3" r="5.2"/><path d="M1098.5 297.8v2M1098.5 308.8v2M1092.0 304.3h2M1103.0 304.3h2"/><circle cx="1104.7" cy="304.3" r="5.2"/><path d="M1104.7 297.8v2M1104.7 308.8v2M1098.2 304.3h2M1109.2 304.3h2"/><circle cx="1151.5" cy="456.4" r="5.2"/><path d="M1151.5 449.9v2M1151.5 460.9v2M1145.0 456.4h2M1156.0 456.4h2"/><circle cx="1157.5" cy="452.1" r="5.2"/><path d="M1157.5 445.6v2M1157.5 456.6v2M1151.0 452.1h2M1162.0 452.1h2"/><circle cx="1203.6" cy="443.3" r="5.2"/><path d="M1203.6 436.8v2M1203.6 447.8v2M1197.1 443.3h2M1208.1 443.3h2"/><circle cx="1210.2" cy="452.1" r="5.2"/><path d="M1210.2 445.6v2M1210.2 456.6v2M1203.7 452.1h2M1214.7 452.1h2"/><circle cx="1255.6" cy="457.4" r="5.2"/><path d="M1255.6 450.9v2M1255.6 461.9v2M1249.1 457.4h2M1260.1 457.4h2"/><circle cx="1261.8" cy="304.3" r="5.2"/><path d="M1261.8 297.8v2M1261.8 308.8v2M1255.3 304.3h2M1266.3 304.3h2"/><circle cx="1308.6" cy="304.3" r="5.2"/><path d="M1308.6 297.8v2M1308.6 308.8v2M1302.1 304.3h2M1313.1 304.3h2"/><circle cx="1316.1" cy="496.2" r="5.2"/><path d="M1316.1 489.7v2M1316.1 500.7v2M1309.6 496.2h2M1320.6 496.2h2"/><circle cx="1362.4" cy="495.4" r="5.2"/><path d="M1362.4 488.9v2M1362.4 499.9v2M1355.9 495.4h2M1366.9 495.4h2"/></g>
<g fill="#c8c800"><path d="M100.9 530.0L106.1 530.0L109.0 532.9L109.0 538.1L106.1 541.0L100.9 541.0L98.0 538.1L98.0 532.9Z"/><path d="M146.9 530.0L152.1 530.0L155.0 532.9L155.0 538.1L152.1 541.0L146.9 541.0L144.0 538.1L144.0 532.9Z"/><path d="M205.9 529.5L211.1 529.5L214.0 532.4L214.0 537.6L211.1 540.5L205.9 540.5L203.0 537.6L203.0 532.4Z"/><path d="M252.7 529.8L257.9 529.8L260.8 532.7L260.8 537.9L257.9 540.8L252.7 540.8L249.8 537.9L249.8 532.7Z"/><path d="M259.3 529.8L264.5 529.8L267.4 532.7L267.4 537.9L264.5 540.8L259.3 540.8L256.4 537.9L256.4 532.7Z"/><path d="M305.4 529.8L310.6 529.8L313.5 532.7L313.5 537.9L310.6 540.8L305.4 540.8L302.5 537.9L302.5 532.7Z"/><path d="M312.0 529.8L317.2 529.8L320.1 532.7L320.1 537.9L317.2 540.8L312.0 540.8L309.1 537.9L309.1 532.7Z"/><path d="M358.1 529.8L363.3 529.8L366.2 532.7L366.2 537.9L363.3 540.8L358.1 540.8L355.2 537.9L355.2 532.7Z"/><path d="M364.7 529.8L369.9 529.8L372.8 532.7L372.8 537.9L369.9 540.8L364.7 540.8L361.8 537.9L361.8 532.7Z"/><path d="M410.8 529.8L416.0 529.8L418.9 532.7L418.9 537.9L416.0 540.8L410.8 540.8L407.9 537.9L407.9 532.7Z"/><path d="M417.4 529.8L422.6 529.8L425.5 532.7L425.5 537.9L422.6 540.8L417.4 540.8L414.5 537.9L414.5 532.7Z"/><path d="M463.6 529.8L468.8 529.8L471.7 532.7L471.7 537.9L468.8 540.8L463.6 540.8L460.7 537.9L460.7 532.7Z"/><path d="M470.2 529.8L475.4 529.8L478.3 532.7L478.3 537.9L475.4 540.8L470.2 540.8L467.3 537.9L467.3 532.7Z"/><path d="M516.3 529.8L521.5 529.8L524.4 532.7L524.4 537.9L521.5 540.8L516.3 540.8L513.4 537.9L513.4 532.7Z"/><path d="M522.9 529.8L528.1 529.8L531.0 532.7L531.0 537.9L528.1 540.8L522.9 540.8L520.0 537.9L520.0 532.7Z"/><path d="M569.0 529.8L574.2 529.8L577.1 532.7L577.1 537.9L574.2 540.8L569.0 540.8L566.1 537.9L566.1 532.7Z"/><path d="M575.6 529.8L580.8 529.8L583.7 532.7L583.7 537.9L580.8 540.8L575.6 540.8L572.7 537.9L572.7 532.7Z"/><path d="M621.7 529.8L626.9 529.8L629.8 532.7L629.8 537.9L626.9 540.8L621.7 540.8L618.8 537.9L618.8 532.7Z"/><path d="M628.3 529.8L633.5 529.8L636.4 532.7L636.4 537.9L633.5 540.8L628.3 540.8L625.4 537.9L625.4 532.7Z"/><path d="M674.4 529.8L679.6 529.8L682.5 532.7L682.5 537.9L679.6 540.8L674.4 540.8L671.5 537.9L671.5 532.7Z"/><path d="M681.0 529.8L686.2 529.8L689.1 532.7L689.1 537.9L686.2 540.8L681.0 540.8L678.1 537.9L678.1 532.7Z"/><path d="M727.1 529.8L732.3 529.8L735.2 532.7L735.2 537.9L732.3 540.8L727.1 540.8L724.2 537.9L724.2 532.7Z"/><path d="M733.7 529.8L738.9 529.8L741.8 532.7L741.8 537.9L738.9 540.8L733.7 540.8L730.8 537.9L730.8 532.7Z"/><path d="M779.8 529.8L785.0 529.8L787.9 532.7L787.9 537.9L785.0 540.8L779.8 540.8L776.9 537.9L776.9 532.7Z"/><path d="M786.4 529.8L791.6 529.8L794.5 532.7L794.5 537.9L791.6 540.8L786.4 540.8L783.5 537.9L783.5 532.7Z"/><path d="M832.5 529.8L837.7 529.8L840.6 532.7L840.6 537.9L837.7 540.8L832.5 540.8L829.6 537.9L829.6 532.7Z"/><path d="M839.1 529.8L844.3 529.8L847.2 532.7L847.2 537.9L844.3 540.8L839.1 540.8L836.2 537.9L836.2 532.7Z"/><path d="M885.2 529.8L890.4 529.8L893.3 532.7L893.3 537.9L890.4 540.8L885.2 540.8L882.3 537.9L882.3 532.7Z"/><path d="M891.8 529.8L897.0 529.8L899.9 532.7L899.9 537.9L897.0 540.8L891.8 540.8L888.9 537.9L888.9 532.7Z"/><path d="M937.9 529.8L943.1 529.8L946.0 532.7L946.0 537.9L943.1 540.8L937.9 540.8L935.0 537.9L935.0 532.7Z"/><path d="M944.5 529.8L949.7 529.8L952.6 532.7L952.6 537.9L949.7 540.8L944.5 540.8L941.6 537.9L941.6 532.7Z"/><path d="M990.6 529.8L995.8 529.8L998.7 532.7L998.7 537.9L995.8 540.8L990.6 540.8L987.7 537.9L987.7 532.7Z"/><path d="M997.2 529.8L1002.4 529.8L1005.3 532.7L1005.3 537.9L1002.4 540.8L997.2 540.8L994.3 537.9L994.3 532.7Z"/><path d="M1043.3 529.8L1048.5 529.8L1051.4 532.7L1051.4 537.9L1048.5 540.8L1043.3 540.8L1040.4 537.9L1040.4 532.7Z"/><path d="M1049.9 529.8L1055.1 529.8L1058.0 532.7L1058.0 537.9L1055.1 540.8L1049.9 540.8L1047.0 537.9L1047.0 532.7Z"/><path d="M1096.1 529.8L1101.3 529.8L1104.2 532.7L1104.2 537.9L1101.3 540.8L1096.1 540.8L1093.2 537.9L1093.2 532.7Z"/><path d="M1102.7 529.8L1107.9 529.8L1110.8 532.7L1110.8 537.9L1107.9 540.8L1102.7 540.8L1099.8 537.9L1099.8 532.7Z"/><path d="M1148.8 529.8L1154.0 529.8L1156.9 532.7L1156.9 537.9L1154.0 540.8L1148.8 540.8L1145.9 537.9L1145.9 532.7Z"/><path d="M1155.4 529.8L1160.6 529.8L1163.5 532.7L1163.5 537.9L1160.6 540.8L1155.4 540.8L1152.5 537.9L1152.5 532.7Z"/><path d="M1201.5 529.8L1206.7 529.8L1209.6 532.7L1209.6 537.9L1206.7 540.8L1201.5 540.8L1198.6 537.9L1198.6 532.7Z"/><path d="M1208.1 529.8L1213.3 529.8L1216.2 532.7L1216.2 537.9L1213.3 540.8L1208.1 540.8L1205.2 537.9L1205.2 532.7Z"/><path d="M1253.7 529.1L1258.8 529.1L1261.8 532.0L1261.8 537.2L1258.8 540.1L1253.7 540.1L1250.8 537.2L1250.8 532.0Z"/><path d="M1259.9 504.5L1265.1 504.5L1268.0 507.4L1268.0 512.6L1265.1 515.5L1259.9 515.5L1257.0 512.6L1257.0 507.4Z"/><path d="M1306.6 521.8L1311.8 521.8L1314.7 524.7L1314.7 529.9L1311.8 532.8L1306.6 532.8L1303.7 529.9L1303.7 524.7Z"/><path d="M1312.4 529.1L1317.6 529.1L1320.5 532.0L1320.5 537.2L1317.6 540.1L1312.4 540.1L1309.5 537.2L1309.5 532.0Z"/><path d="M1359.3 525.5L1364.5 525.5L1367.4 528.4L1367.4 533.6L1364.5 536.5L1359.3 536.5L1356.4 533.6L1356.4 528.4Z"/></g>
<g fill="none" stroke="#4169e1" stroke-width="1" stroke-linejoin="bevel" shape-rendering="crispEdges"><path d="M106.6 455.7L115.1 468.5L98.1 468.5Z"/><path d="M113.4 455.7L121.9 468.5L104.9 468.5Z"/><path d="M119.4 455.7L127.9 468.5L110.9 468.5Z"/><path d="M126.5 455.7L135.0 468.5L118.0 468.5Z"/><path d="M132.6 455.7L141.1 468.5L124.1 468.5Z"/><path d="M138.6 455.7L147.1 468.5L130.1 468.5Z"/><path d="M144.6 455.7L153.1 468.5L136.1 468.5Z"/></g>
<g fill="none" stroke="#c080ff" stroke-width="1" stroke-linejoin="bevel" shape-rendering="crispEdges"><path d="M198.1 328.0L215.1 328.0L206.6 340.8Z"/></g>
<g fill="none" stroke="#306080" stroke-width="1" stroke-linejoin="bevel" shape-rendering="crispEdges"><path d="M197.9 347.2L214.9 347.2L206.4 360.0Z"/></g>
<g fill="none" stroke="#008040" stroke-width="1" shape-rendering="crispEdges"><path d="M200.5 372.5h12M206.5 366.5v12"/></g>
<g fill="#ffc020"><path d="M206.5 401.9L215.0 414.7L198.0 414.7Z"/></g>
<rect x="200.6" y="427.8" width="12" height="11.5" fill="none" stroke="#c000ff" stroke-width="1.1"/>
<rect x="200.1" y="481.4" width="13" height="12.6" fill="#00eeee"/>
<g fill="none" stroke="#4169e1" stroke-width="1" stroke-linejoin="bevel" shape-rendering="crispEdges"><path d="M206.5 456.3L215.0 469.1L198.0 469.1Z"/></g>
<path d="M1288 72.5H1345" stroke="#ff0000" stroke-width="1" shape-rendering="crispEdges"/>
<path d="M1288 91.5H1345" stroke="#00c000" stroke-width="1" shape-rendering="crispEdges"/>
<path d="M1288 110.5H1345" stroke="#0080ff" stroke-width="1" shape-rendering="crispEdges"/>
<rect x="1310.5" y="123.5" width="12" height="12" fill="none" stroke="#c000ff" stroke-width="1.1"/>
<rect x="1310.0" y="142.0" width="13" height="13" fill="#00eeee"/>
<g fill="none" stroke="#c04000" stroke-width="1.3" shape-rendering="crispEdges"><circle cx="1316.5" cy="167.5" r="5.2"/><path d="M1316.5 161.0v2M1316.5 172.0v2M1310.0 167.5h2M1321.0 167.5h2"/></g>
<g fill="#c8c800"><path d="M1313.9 181.0L1319.1 181.0L1322.0 183.9L1322.0 189.1L1319.1 192.0L1313.9 192.0L1311.0 189.1L1311.0 183.9Z"/></g>
<g fill="none" stroke="#4169e1" stroke-width="1" stroke-linejoin="bevel" shape-rendering="crispEdges"><path d="M1316.5 197.1L1325.0 209.9L1308.0 209.9Z"/></g>
<g fill="#ffc020"><path d="M1316.5 216.1L1325.0 228.9L1308.0 228.9Z"/></g>
<g fill="none" stroke="#008040" stroke-width="1" shape-rendering="crispEdges"><path d="M1310.5 243.5h12M1316.5 237.5v12"/></g>
<g fill="none" stroke="#c080ff" stroke-width="1" stroke-linejoin="bevel" shape-rendering="crispEdges"><path d="M1308.0 258.2L1325.0 258.2L1316.5 271.0Z"/></g>
<g fill="none" stroke="#306080" stroke-width="1" stroke-linejoin="bevel" shape-rendering="crispEdges"><path d="M1308.0 277.2L1325.0 277.2L1316.5 290.0Z"/></g>
<path d="M93 350H161.7L154 362.9H101Z M198.3 350H1373.75L1365.75 362.9H207Z" fill="#306080"/>
<g fill="#fff"><rect x="219" y="362" width="1" height="1"/><rect x="323" y="362" width="1" height="1"/><rect x="515" y="362" width="1" height="1"/><rect x="616" y="362" width="1" height="1"/><rect x="706" y="362" width="1" height="1"/><rect x="982" y="362" width="1" height="1"/><rect x="1135" y="362" width="1" height="1"/><rect x="1220" y="362" width="1" height="1"/><rect x="1287" y="362" width="1" height="1"/></g>
<rect x="101.5" y="57.5" width="1265" height="482" fill="none" stroke="#000" stroke-width="1"/>
</svg></body></html>
